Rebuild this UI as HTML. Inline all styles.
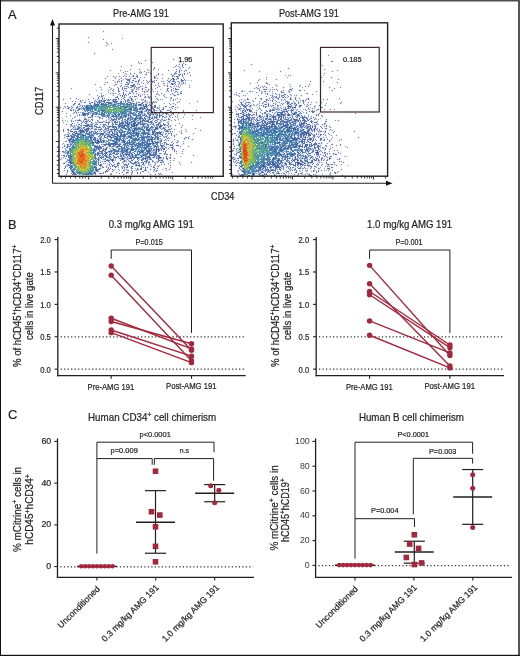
<!DOCTYPE html>
<html><head><meta charset="utf-8"><style>
html,body{margin:0;padding:0;background:#fff;-webkit-font-smoothing:antialiased;}
#w{position:relative;width:520px;height:656px;overflow:hidden;background:#fff;}
svg{position:absolute;left:0;top:0;}
canvas{position:absolute;} svg{will-change:transform} text{stroke:#231f20;stroke-width:0.22px;}
</style></head><body><div id="w">
<canvas id="c1" width="164" height="152" style="left:59px;top:24px"></canvas>
<canvas id="c2" width="157" height="154" style="left:231px;top:23px"></canvas>
<svg width="520" height="656" viewBox="0 0 520 656" font-family="Liberation Sans, sans-serif" stroke-linecap="butt"><g>
<text x="8" y="18.6" font-size="12.8" fill="#231f20">A</text>
<text x="113.1" y="16.6" font-size="10.5" textLength="55.7" lengthAdjust="spacingAndGlyphs" fill="#231f20">Pre-AMG 191</text>
<text x="278.9" y="16.6" font-size="10.5" textLength="60" lengthAdjust="spacingAndGlyphs" fill="#231f20">Post-AMG 191</text>
<line x1="52.5" y1="24" x2="52.5" y2="183.3" stroke="#231f20" stroke-width="1.1"/>
<path d="M52.5 19 L50 25.5 L55 25.5 Z" stroke="#231f20" stroke-width="0" fill="#111"/>
<line x1="52.5" y1="183.3" x2="387" y2="183.3" stroke="#231f20" stroke-width="1.1"/>
<path d="M392.5 183.3 L386 180.8 L386 185.8 Z" stroke="#231f20" stroke-width="0" fill="#111"/>
<text x="42.9" y="115" font-size="10.5" textLength="28.3" lengthAdjust="spacingAndGlyphs" transform="rotate(-90 42.9 115)" fill="#231f20">CD117</text>
<text x="211.1" y="200.2" font-size="10.5" textLength="23.2" lengthAdjust="spacingAndGlyphs" fill="#231f20">CD34</text>
<rect x="59" y="24" width="164.2" height="152.3" fill="none" stroke="#231f20" stroke-width="1.4"/>
<rect x="231.3" y="22.8" width="156.3" height="153.4" fill="none" stroke="#231f20" stroke-width="1.4"/>
<rect x="151.2" y="47.4" width="62.2" height="65.2" fill="none" stroke="#3d2626" stroke-width="1.2"/>
<rect x="320.5" y="47.4" width="58.7" height="64.6" fill="none" stroke="#3d2626" stroke-width="1.2"/>
<path d="M59 38.50h-3.3M59 62.50h-2.2M59 56.45h-2.2M59 52.16h-2.2M59 48.83h-2.2M59 46.12h-2.2M59 43.82h-2.2M59 41.83h-2.2M59 40.07h-2.2M59 72.80h-3.3M59 96.80h-2.2M59 90.75h-2.2M59 86.46h-2.2M59 83.13h-2.2M59 80.42h-2.2M59 78.12h-2.2M59 76.13h-2.2M59 74.37h-2.2M59 107.20h-3.3M59 131.20h-2.2M59 125.15h-2.2M59 120.86h-2.2M59 117.53h-2.2M59 114.82h-2.2M59 112.52h-2.2M59 110.53h-2.2M59 108.77h-2.2M59 141.50h-3.3M59 28.20h-2.2M59 147.00h-2.2M59 151.50h-2.2M59 156.00h-2.2M59 160.50h-2.2M59 165.00h-2.2M59 169.50h-2.2M59 173.50h-2.2" stroke="#231f20" stroke-width="0.9" fill="none"/>
<path d="M231.3 38.50h-3.3M231.3 62.50h-2.2M231.3 56.45h-2.2M231.3 52.16h-2.2M231.3 48.83h-2.2M231.3 46.12h-2.2M231.3 43.82h-2.2M231.3 41.83h-2.2M231.3 40.07h-2.2M231.3 72.80h-3.3M231.3 96.80h-2.2M231.3 90.75h-2.2M231.3 86.46h-2.2M231.3 83.13h-2.2M231.3 80.42h-2.2M231.3 78.12h-2.2M231.3 76.13h-2.2M231.3 74.37h-2.2M231.3 107.20h-3.3M231.3 131.20h-2.2M231.3 125.15h-2.2M231.3 120.86h-2.2M231.3 117.53h-2.2M231.3 114.82h-2.2M231.3 112.52h-2.2M231.3 110.53h-2.2M231.3 108.77h-2.2M231.3 141.50h-3.3M231.3 28.20h-2.2M231.3 147.00h-2.2M231.3 151.50h-2.2M231.3 156.00h-2.2M231.3 160.50h-2.2M231.3 165.00h-2.2M231.3 169.50h-2.2M231.3 173.50h-2.2" stroke="#231f20" stroke-width="0.9" fill="none"/>
<path d="M88.70 176.3v3.3M101.34 176.3v2.2M108.74 176.3v2.2M113.99 176.3v2.2M118.06 176.3v2.2M121.38 176.3v2.2M124.19 176.3v2.2M126.63 176.3v2.2M128.78 176.3v2.2M130.70 176.3v3.3M143.34 176.3v2.2M150.74 176.3v2.2M155.99 176.3v2.2M160.06 176.3v2.2M163.38 176.3v2.2M166.19 176.3v2.2M168.63 176.3v2.2M170.78 176.3v2.2M172.70 176.3v3.3M185.34 176.3v2.2M192.74 176.3v2.2M197.99 176.3v2.2M202.06 176.3v2.2M205.38 176.3v2.2M208.19 176.3v2.2M210.63 176.3v2.2M212.78 176.3v2.2M61.20 176.3v2.2M65.70 176.3v2.2M70.50 176.3v2.2M75.30 176.3v2.2M79.80 176.3v2.2M82.60 176.3v2.2M85.20 176.3v2.2" stroke="#231f20" stroke-width="0.9" fill="none"/>
<path d="M252.00 176.2v3.3M264.19 176.2v2.2M271.32 176.2v2.2M276.38 176.2v2.2M280.31 176.2v2.2M283.52 176.2v2.2M286.23 176.2v2.2M288.58 176.2v2.2M290.65 176.2v2.2M292.50 176.2v3.3M304.69 176.2v2.2M311.82 176.2v2.2M316.88 176.2v2.2M320.81 176.2v2.2M324.02 176.2v2.2M326.73 176.2v2.2M329.08 176.2v2.2M331.15 176.2v2.2M333.00 176.2v3.3M345.19 176.2v2.2M352.32 176.2v2.2M357.38 176.2v2.2M361.31 176.2v2.2M364.52 176.2v2.2M367.23 176.2v2.2M369.58 176.2v2.2M371.65 176.2v2.2M373.50 176.2v3.3M385.69 176.2v2.2M232.60 176.2v2.2M237.70 176.2v2.2M242.90 176.2v2.2M247.50 176.2v2.2" stroke="#231f20" stroke-width="0.9" fill="none"/>
<text x="178.2" y="61.5" font-size="7.8" textLength="14.1" lengthAdjust="spacingAndGlyphs" fill="#231f20">1.96</text>
<text x="343" y="61.5" font-size="7.8" textLength="18.5" lengthAdjust="spacingAndGlyphs" fill="#231f20">0.185</text>
<text x="8" y="228.7" font-size="12.8" fill="#231f20">B</text>
<text x="108.7" y="227.5" font-size="10.2" textLength="85.1" lengthAdjust="spacingAndGlyphs" fill="#231f20">0.3 mg/kg AMG 191</text>
<text x="135.6" y="244.8" font-size="8.6" textLength="27.1" lengthAdjust="spacingAndGlyphs" fill="#231f20">P=0.015</text>
<line x1="57.8" y1="237" x2="57.8" y2="376.2" stroke="#231f20" stroke-width="1.3"/>
<line x1="57.15" y1="375.6" x2="245.6" y2="375.6" stroke="#231f20" stroke-width="1.3"/>
<line x1="54.599999999999994" y1="369.1" x2="57.8" y2="369.1" stroke="#231f20" stroke-width="1.1"/>
<text x="50.8" y="372.5" font-size="9" text-anchor="end" textLength="10.6" lengthAdjust="spacingAndGlyphs" fill="#231f20">0.0</text>
<line x1="54.599999999999994" y1="336.725" x2="57.8" y2="336.725" stroke="#231f20" stroke-width="1.1"/>
<text x="50.8" y="340.125" font-size="9" text-anchor="end" textLength="10.6" lengthAdjust="spacingAndGlyphs" fill="#231f20">0.5</text>
<line x1="54.599999999999994" y1="304.35" x2="57.8" y2="304.35" stroke="#231f20" stroke-width="1.1"/>
<text x="50.8" y="307.75" font-size="9" text-anchor="end" textLength="10.6" lengthAdjust="spacingAndGlyphs" fill="#231f20">1.0</text>
<line x1="54.599999999999994" y1="271.975" x2="57.8" y2="271.975" stroke="#231f20" stroke-width="1.1"/>
<text x="50.8" y="275.375" font-size="9" text-anchor="end" textLength="10.6" lengthAdjust="spacingAndGlyphs" fill="#231f20">1.5</text>
<line x1="54.599999999999994" y1="239.60000000000002" x2="57.8" y2="239.60000000000002" stroke="#231f20" stroke-width="1.1"/>
<text x="50.8" y="243.00000000000003" font-size="9" text-anchor="end" textLength="10.6" lengthAdjust="spacingAndGlyphs" fill="#231f20">2.0</text>
<line x1="60.6" y1="336.9" x2="245" y2="336.9" stroke="#2a2a2a" stroke-width="1.3" stroke-dasharray="1.2 2.3"/>
<line x1="60.6" y1="369.2" x2="245" y2="369.2" stroke="#2a2a2a" stroke-width="1.3" stroke-dasharray="1.2 2.3"/>
<line x1="111.2" y1="375.6" x2="111.2" y2="378.8" stroke="#231f20" stroke-width="1.1"/>
<line x1="191.5" y1="375.6" x2="191.5" y2="378.8" stroke="#231f20" stroke-width="1.1"/>
<text x="110.9" y="389.5" font-size="8.8" text-anchor="middle" textLength="46.7" lengthAdjust="spacingAndGlyphs" fill="#231f20">Pre-AMG 191</text>
<text x="191.3" y="389.4" font-size="8.8" text-anchor="middle" textLength="50.6" lengthAdjust="spacingAndGlyphs" fill="#231f20">Post-AMG 191</text>
<path d="M111.2 258.8 L111.2 250 L191.5 250 L191.5 332.9" stroke="#231f20" stroke-width="1.0" fill="none"/>
<line x1="111.2" y1="266.02599999999995" x2="191.5" y2="350.263" stroke="#a3283d" stroke-width="1.4"/>
<line x1="111.2" y1="275.168" x2="191.5" y2="360.711" stroke="#a3283d" stroke-width="1.4"/>
<line x1="111.2" y1="318.26599999999996" x2="191.5" y2="348.957" stroke="#a3283d" stroke-width="1.4"/>
<line x1="111.2" y1="321.531" x2="191.5" y2="343.733" stroke="#a3283d" stroke-width="1.4"/>
<line x1="111.2" y1="330.02" x2="191.5" y2="356.14" stroke="#a3283d" stroke-width="1.4"/>
<line x1="111.2" y1="332.632" x2="191.5" y2="362.67" stroke="#a3283d" stroke-width="1.4"/>
<circle cx="111.2" cy="266.03" r="2.7" fill="#a3283d"/>
<circle cx="191.5" cy="350.26" r="2.7" fill="#a3283d"/>
<circle cx="111.2" cy="275.17" r="2.7" fill="#a3283d"/>
<circle cx="191.5" cy="360.71" r="2.7" fill="#a3283d"/>
<circle cx="111.2" cy="318.27" r="2.7" fill="#a3283d"/>
<circle cx="191.5" cy="348.96" r="2.7" fill="#a3283d"/>
<circle cx="111.2" cy="321.53" r="2.7" fill="#a3283d"/>
<circle cx="191.5" cy="343.73" r="2.7" fill="#a3283d"/>
<circle cx="111.2" cy="330.02" r="2.7" fill="#a3283d"/>
<circle cx="191.5" cy="356.14" r="2.7" fill="#a3283d"/>
<circle cx="111.2" cy="332.63" r="2.7" fill="#a3283d"/>
<circle cx="191.5" cy="362.67" r="2.7" fill="#a3283d"/>
<text transform="translate(20.5 305.8) rotate(-90)" text-anchor="middle" font-size="10" fill="#231f20" textLength="122.5" lengthAdjust="spacingAndGlyphs">% of hCD45<tspan font-size="7" dy="-3.5">+</tspan><tspan dy="3.5">hCD34</tspan><tspan font-size="7" dy="-3.5">+</tspan><tspan dy="3.5">CD117</tspan><tspan font-size="7" dy="-3.5">+</tspan></text>
<text transform="translate(32.6 306.1) rotate(-90)" text-anchor="middle" font-size="10" fill="#231f20" textLength="67.7" lengthAdjust="spacingAndGlyphs">cells in live gate</text>
<text x="367.09999999999997" y="227.5" font-size="10.2" textLength="85.1" lengthAdjust="spacingAndGlyphs" fill="#231f20">1.0 mg/kg AMG 191</text>
<text x="395.5" y="244.8" font-size="8.6" textLength="27.1" lengthAdjust="spacingAndGlyphs" fill="#231f20">P=0.001</text>
<line x1="316.2" y1="237" x2="316.2" y2="376.2" stroke="#231f20" stroke-width="1.3"/>
<line x1="315.55" y1="375.6" x2="504.0" y2="375.6" stroke="#231f20" stroke-width="1.3"/>
<line x1="313.0" y1="369.1" x2="316.2" y2="369.1" stroke="#231f20" stroke-width="1.1"/>
<text x="309.2" y="372.5" font-size="9" text-anchor="end" textLength="10.6" lengthAdjust="spacingAndGlyphs" fill="#231f20">0.0</text>
<line x1="313.0" y1="336.725" x2="316.2" y2="336.725" stroke="#231f20" stroke-width="1.1"/>
<text x="309.2" y="340.125" font-size="9" text-anchor="end" textLength="10.6" lengthAdjust="spacingAndGlyphs" fill="#231f20">0.5</text>
<line x1="313.0" y1="304.35" x2="316.2" y2="304.35" stroke="#231f20" stroke-width="1.1"/>
<text x="309.2" y="307.75" font-size="9" text-anchor="end" textLength="10.6" lengthAdjust="spacingAndGlyphs" fill="#231f20">1.0</text>
<line x1="313.0" y1="271.975" x2="316.2" y2="271.975" stroke="#231f20" stroke-width="1.1"/>
<text x="309.2" y="275.375" font-size="9" text-anchor="end" textLength="10.6" lengthAdjust="spacingAndGlyphs" fill="#231f20">1.5</text>
<line x1="313.0" y1="239.60000000000002" x2="316.2" y2="239.60000000000002" stroke="#231f20" stroke-width="1.1"/>
<text x="309.2" y="243.00000000000003" font-size="9" text-anchor="end" textLength="10.6" lengthAdjust="spacingAndGlyphs" fill="#231f20">2.0</text>
<line x1="319.0" y1="336.9" x2="503.4" y2="336.9" stroke="#2a2a2a" stroke-width="1.3" stroke-dasharray="1.2 2.3"/>
<line x1="319.0" y1="369.2" x2="503.4" y2="369.2" stroke="#2a2a2a" stroke-width="1.3" stroke-dasharray="1.2 2.3"/>
<line x1="369.59999999999997" y1="375.6" x2="369.59999999999997" y2="378.8" stroke="#231f20" stroke-width="1.1"/>
<line x1="449.9" y1="375.6" x2="449.9" y2="378.8" stroke="#231f20" stroke-width="1.1"/>
<text x="369.29999999999995" y="389.5" font-size="8.8" text-anchor="middle" textLength="46.7" lengthAdjust="spacingAndGlyphs" fill="#231f20">Pre-AMG 191</text>
<text x="449.7" y="389.4" font-size="8.8" text-anchor="middle" textLength="50.6" lengthAdjust="spacingAndGlyphs" fill="#231f20">Post-AMG 191</text>
<path d="M369.59999999999997 258.8 L369.59999999999997 250 L449.9 250 L449.9 332.9" stroke="#231f20" stroke-width="1.0" fill="none"/>
<line x1="369.59999999999997" y1="265.373" x2="449.9" y2="355.48699999999997" stroke="#a3283d" stroke-width="1.4"/>
<line x1="369.59999999999997" y1="283.657" x2="449.9" y2="365.935" stroke="#a3283d" stroke-width="1.4"/>
<line x1="369.59999999999997" y1="291.493" x2="449.9" y2="345.039" stroke="#a3283d" stroke-width="1.4"/>
<line x1="369.59999999999997" y1="294.758" x2="449.9" y2="347.651" stroke="#a3283d" stroke-width="1.4"/>
<line x1="369.59999999999997" y1="320.878" x2="449.9" y2="352.875" stroke="#a3283d" stroke-width="1.4"/>
<line x1="369.59999999999997" y1="335.24399999999997" x2="449.9" y2="367.894" stroke="#a3283d" stroke-width="1.4"/>
<circle cx="369.59999999999997" cy="265.37" r="2.7" fill="#a3283d"/>
<circle cx="449.9" cy="355.49" r="2.7" fill="#a3283d"/>
<circle cx="369.59999999999997" cy="283.66" r="2.7" fill="#a3283d"/>
<circle cx="449.9" cy="365.94" r="2.7" fill="#a3283d"/>
<circle cx="369.59999999999997" cy="291.49" r="2.7" fill="#a3283d"/>
<circle cx="449.9" cy="345.04" r="2.7" fill="#a3283d"/>
<circle cx="369.59999999999997" cy="294.76" r="2.7" fill="#a3283d"/>
<circle cx="449.9" cy="347.65" r="2.7" fill="#a3283d"/>
<circle cx="369.59999999999997" cy="320.88" r="2.7" fill="#a3283d"/>
<circle cx="449.9" cy="352.88" r="2.7" fill="#a3283d"/>
<circle cx="369.59999999999997" cy="335.24" r="2.7" fill="#a3283d"/>
<circle cx="449.9" cy="367.89" r="2.7" fill="#a3283d"/>
<text transform="translate(278.9 305.8) rotate(-90)" text-anchor="middle" font-size="10" fill="#231f20" textLength="122.5" lengthAdjust="spacingAndGlyphs">% of hCD45<tspan font-size="7" dy="-3.5">+</tspan><tspan dy="3.5">hCD34</tspan><tspan font-size="7" dy="-3.5">+</tspan><tspan dy="3.5">CD117</tspan><tspan font-size="7" dy="-3.5">+</tspan></text>
<text transform="translate(291.0 306.1) rotate(-90)" text-anchor="middle" font-size="10" fill="#231f20" textLength="67.7" lengthAdjust="spacingAndGlyphs">cells in live gate</text>
<text x="8" y="419" font-size="12.8" fill="#231f20">C</text>
<line x1="57.5" y1="438.4" x2="57.5" y2="577.9" stroke="#231f20" stroke-width="1.3"/>
<line x1="56.85" y1="577.3" x2="254" y2="577.3" stroke="#231f20" stroke-width="1.3"/>
<line x1="54.3" y1="566.6" x2="57.5" y2="566.6" stroke="#231f20" stroke-width="1.1"/>
<text x="51.2" y="569.2" font-size="8.8" text-anchor="end" fill="#231f20">0</text>
<line x1="54.3" y1="524.87" x2="57.5" y2="524.87" stroke="#231f20" stroke-width="1.1"/>
<text x="51.2" y="527.47" font-size="8.8" text-anchor="end" fill="#231f20">20</text>
<line x1="54.3" y1="483.14" x2="57.5" y2="483.14" stroke="#231f20" stroke-width="1.1"/>
<text x="51.2" y="485.74" font-size="8.8" text-anchor="end" fill="#231f20">40</text>
<line x1="54.3" y1="441.41" x2="57.5" y2="441.41" stroke="#231f20" stroke-width="1.1"/>
<text x="51.2" y="444.01000000000005" font-size="8.8" text-anchor="end" fill="#231f20">60</text>
<line x1="60.3" y1="566.9" x2="253" y2="566.9" stroke="#2a2a2a" stroke-width="1.3" stroke-dasharray="1.2 2.3"/>
<line x1="96.9" y1="577.3" x2="96.9" y2="580.4" stroke="#231f20" stroke-width="1.1"/>
<line x1="155.8" y1="577.3" x2="155.8" y2="580.4" stroke="#231f20" stroke-width="1.1"/>
<line x1="214.7" y1="577.3" x2="214.7" y2="580.4" stroke="#231f20" stroke-width="1.1"/>
<text transform="translate(100.40 589.50) rotate(-45)" text-anchor="end" font-size="8.7" fill="#231f20">Unconditioned</text>
<text transform="translate(159.30 588.00) rotate(-45)" text-anchor="end" font-size="8.7" fill="#231f20">0.3 mg/kg AMG 191</text>
<text transform="translate(219.70 588.00) rotate(-45)" text-anchor="end" font-size="8.7" fill="#231f20">1.0 mg/kg AMG 191</text>
<line x1="315.6" y1="438.4" x2="315.6" y2="577.9" stroke="#231f20" stroke-width="1.3"/>
<line x1="314.95000000000005" y1="577.3" x2="512.1" y2="577.3" stroke="#231f20" stroke-width="1.3"/>
<line x1="312.40000000000003" y1="565.4" x2="315.6" y2="565.4" stroke="#231f20" stroke-width="1.1"/>
<text x="309.70000000000005" y="568.0" font-size="8.8" text-anchor="end" fill="#231f20" style="stroke-width:0" fill-opacity="0.9">0</text>
<line x1="312.40000000000003" y1="540.6" x2="315.6" y2="540.6" stroke="#231f20" stroke-width="1.1"/>
<text x="309.70000000000005" y="543.2" font-size="8.8" text-anchor="end" fill="#231f20" style="stroke-width:0" fill-opacity="0.9">20</text>
<line x1="312.40000000000003" y1="515.8" x2="315.6" y2="515.8" stroke="#231f20" stroke-width="1.1"/>
<text x="309.70000000000005" y="518.4" font-size="8.8" text-anchor="end" fill="#231f20" style="stroke-width:0" fill-opacity="0.9">40</text>
<line x1="312.40000000000003" y1="491.0" x2="315.6" y2="491.0" stroke="#231f20" stroke-width="1.1"/>
<text x="309.70000000000005" y="493.6" font-size="8.8" text-anchor="end" fill="#231f20" style="stroke-width:0" fill-opacity="0.9">60</text>
<line x1="312.40000000000003" y1="466.2" x2="315.6" y2="466.2" stroke="#231f20" stroke-width="1.1"/>
<text x="309.70000000000005" y="468.8" font-size="8.8" text-anchor="end" fill="#231f20" style="stroke-width:0" fill-opacity="0.9">80</text>
<line x1="312.40000000000003" y1="441.4" x2="315.6" y2="441.4" stroke="#231f20" stroke-width="1.1"/>
<text x="309.70000000000005" y="444.0" font-size="8.8" text-anchor="end" fill="#231f20" style="stroke-width:0" fill-opacity="0.9">100</text>
<line x1="318.40000000000003" y1="565.6999999999999" x2="511.1" y2="565.6999999999999" stroke="#2a2a2a" stroke-width="1.3" stroke-dasharray="1.2 2.3"/>
<line x1="355.0" y1="577.3" x2="355.0" y2="580.4" stroke="#231f20" stroke-width="1.1"/>
<line x1="413.90000000000003" y1="577.3" x2="413.90000000000003" y2="580.4" stroke="#231f20" stroke-width="1.1"/>
<line x1="472.8" y1="577.3" x2="472.8" y2="580.4" stroke="#231f20" stroke-width="1.1"/>
<text transform="translate(358.50 589.50) rotate(-45)" text-anchor="end" font-size="8.7" fill="#231f20">Unconditioned</text>
<text transform="translate(417.40 588.00) rotate(-45)" text-anchor="end" font-size="8.7" fill="#231f20">0.3 mg/kg AMG 191</text>
<text transform="translate(477.80 588.00) rotate(-45)" text-anchor="end" font-size="8.7" fill="#231f20">1.0 mg/kg AMG 191</text>
<text x="88" y="420.5" font-size="10.5" fill="#231f20" textLength="128.2" lengthAdjust="spacingAndGlyphs">Human CD34<tspan font-size="7" dy="-3.8">+</tspan><tspan dy="3.8"> cell chimerism</tspan></text>
<text x="358.9" y="420.5" font-size="10.5" textLength="105.1" lengthAdjust="spacingAndGlyphs" fill="#231f20">Human B cell chimerism</text>
<text x="139.5" y="436.5" font-size="7.8" textLength="31.3" lengthAdjust="spacingAndGlyphs" fill="#231f20">p&lt;0.0001</text>
<text x="110.5" y="453.3" font-size="7.8" textLength="27.3" lengthAdjust="spacingAndGlyphs" fill="#231f20">p=0.009</text>
<text x="179.8" y="453.0" font-size="7.8" textLength="9.2" lengthAdjust="spacingAndGlyphs" fill="#231f20">n.s</text>
<path d="M96.9 553.6 L96.9 442.2 L214 442.2 L214 452.3" stroke="#231f20" stroke-width="1.0" fill="none"/>
<path d="M96.9 458.6 L152.2 458.6 L152.2 464.8" stroke="#231f20" stroke-width="1.0" fill="none"/>
<path d="M154.3 464.8 L154.3 458.6 L213.6 458.6 L213.6 480.7" stroke="#231f20" stroke-width="1.0" fill="none"/>
<text x="397.4" y="436.8" font-size="7.8" textLength="31.6" lengthAdjust="spacingAndGlyphs" fill="#231f20">P&lt;0.0001</text>
<text x="429" y="453.5" font-size="7.8" textLength="27.4" lengthAdjust="spacingAndGlyphs" fill="#231f20">P=0.003</text>
<text x="371" y="513.1" font-size="7.8" textLength="27.5" lengthAdjust="spacingAndGlyphs" fill="#231f20">P=0.004</text>
<path d="M355 558.7 L355 442.2 L472.6 442.2 L472.6 453.7" stroke="#231f20" stroke-width="1.0" fill="none"/>
<path d="M413.3 514.4 L413.3 458.3 L472.6 458.3 L472.6 463.6" stroke="#231f20" stroke-width="1.0" fill="none"/>
<path d="M355 518.7 L414.5 518.7 L414.5 526.9" stroke="#231f20" stroke-width="1.0" fill="none"/>
<line x1="77" y1="566.4" x2="117" y2="566.4" stroke="#231f20" stroke-width="1.4"/>
<circle cx="81.20" cy="566.3" r="2.3" fill="#a3283d"/>
<circle cx="85.13" cy="566.3" r="2.3" fill="#a3283d"/>
<circle cx="89.06" cy="566.3" r="2.3" fill="#a3283d"/>
<circle cx="92.99" cy="566.3" r="2.3" fill="#a3283d"/>
<circle cx="96.92" cy="566.3" r="2.3" fill="#a3283d"/>
<circle cx="100.85" cy="566.3" r="2.3" fill="#a3283d"/>
<circle cx="104.78" cy="566.3" r="2.3" fill="#a3283d"/>
<circle cx="108.71" cy="566.3" r="2.3" fill="#a3283d"/>
<circle cx="112.64" cy="566.3" r="2.3" fill="#a3283d"/>
<line x1="155.5" y1="490.6514" x2="155.5" y2="553.2464" stroke="#231f20" stroke-width="1.2"/>
<line x1="145.0" y1="490.6514" x2="166.0" y2="490.6514" stroke="#231f20" stroke-width="1.2"/>
<line x1="145.0" y1="553.2464" x2="166.0" y2="553.2464" stroke="#231f20" stroke-width="1.2"/>
<line x1="136.0" y1="522.15755" x2="175.0" y2="522.15755" stroke="#231f20" stroke-width="1.5"/>
<rect x="152.70" y="468.45" width="5.6" height="5.6" fill="#a3283d"/>
<rect x="148.70" y="508.93" width="5.6" height="5.6" fill="#a3283d"/>
<rect x="157.00" y="512.26" width="5.6" height="5.6" fill="#a3283d"/>
<rect x="152.70" y="523.95" width="5.6" height="5.6" fill="#a3283d"/>
<rect x="152.70" y="543.56" width="5.6" height="5.6" fill="#a3283d"/>
<rect x="152.70" y="559.00" width="5.6" height="5.6" fill="#a3283d"/>
<line x1="214.7" y1="484.60055" x2="214.7" y2="501.70985" stroke="#231f20" stroke-width="1.2"/>
<line x1="204.2" y1="484.60055" x2="225.2" y2="484.60055" stroke="#231f20" stroke-width="1.2"/>
<line x1="204.2" y1="501.70985" x2="225.2" y2="501.70985" stroke="#231f20" stroke-width="1.2"/>
<line x1="195.2" y1="493.36385" x2="234.2" y2="493.36385" stroke="#231f20" stroke-width="1.5"/>
<circle cx="210.70" cy="485.64" r="2.5" fill="#a3283d"/>
<circle cx="218.80" cy="490.23" r="2.5" fill="#a3283d"/>
<circle cx="214.70" cy="502.75" r="2.5" fill="#a3283d"/>
<line x1="335" y1="565.2" x2="375" y2="565.2" stroke="#231f20" stroke-width="1.4"/>
<circle cx="339.20" cy="565.1" r="2.3" fill="#a3283d"/>
<circle cx="343.13" cy="565.1" r="2.3" fill="#a3283d"/>
<circle cx="347.06" cy="565.1" r="2.3" fill="#a3283d"/>
<circle cx="350.99" cy="565.1" r="2.3" fill="#a3283d"/>
<circle cx="354.92" cy="565.1" r="2.3" fill="#a3283d"/>
<circle cx="358.85" cy="565.1" r="2.3" fill="#a3283d"/>
<circle cx="362.78" cy="565.1" r="2.3" fill="#a3283d"/>
<circle cx="366.71" cy="565.1" r="2.3" fill="#a3283d"/>
<circle cx="370.64" cy="565.1" r="2.3" fill="#a3283d"/>
<line x1="414.3" y1="541.22" x2="414.3" y2="563.168" stroke="#231f20" stroke-width="1.2"/>
<line x1="403.8" y1="541.22" x2="424.8" y2="541.22" stroke="#231f20" stroke-width="1.2"/>
<line x1="403.8" y1="563.168" x2="424.8" y2="563.168" stroke="#231f20" stroke-width="1.2"/>
<line x1="394.8" y1="552.0079999999999" x2="433.8" y2="552.0079999999999" stroke="#231f20" stroke-width="1.5"/>
<rect x="411.50" y="531.97" width="5.6" height="5.6" fill="#a3283d"/>
<rect x="406.90" y="541.27" width="5.6" height="5.6" fill="#a3283d"/>
<rect x="415.80" y="545.61" width="5.6" height="5.6" fill="#a3283d"/>
<rect x="403.50" y="554.66" width="5.6" height="5.6" fill="#a3283d"/>
<rect x="418.80" y="560.12" width="5.6" height="5.6" fill="#a3283d"/>
<rect x="411.50" y="561.73" width="5.6" height="5.6" fill="#a3283d"/>
<line x1="472.7" y1="469.548" x2="472.7" y2="524.356" stroke="#231f20" stroke-width="1.2"/>
<line x1="462.2" y1="469.548" x2="483.2" y2="469.548" stroke="#231f20" stroke-width="1.2"/>
<line x1="462.2" y1="524.356" x2="483.2" y2="524.356" stroke="#231f20" stroke-width="1.2"/>
<line x1="453.2" y1="497.07599999999996" x2="492.2" y2="497.07599999999996" stroke="#231f20" stroke-width="1.5"/>
<circle cx="472.70" cy="474.63" r="2.5" fill="#a3283d"/>
<circle cx="472.70" cy="488.27" r="2.5" fill="#a3283d"/>
<circle cx="472.70" cy="527.58" r="2.5" fill="#a3283d"/>
<text transform="translate(20.6 509.4) rotate(-90)" text-anchor="middle" font-size="10" fill="#231f20" textLength="85" lengthAdjust="spacingAndGlyphs">% mCitrine<tspan font-size="7" dy="-3.5">+</tspan><tspan dy="3.5"> cells in</tspan></text>
<text transform="translate(33.1 509.4) rotate(-90)" text-anchor="middle" font-size="10" fill="#231f20" textLength="70.5" lengthAdjust="spacingAndGlyphs">hCD45<tspan font-size="7" dy="-3.5">+</tspan><tspan dy="3.5">hCD34</tspan><tspan font-size="7" dy="-3.5">+</tspan></text>
<text transform="translate(277.8 507.9) rotate(-90)" text-anchor="middle" font-size="10" fill="#231f20" textLength="85.3" lengthAdjust="spacingAndGlyphs">% mCitrine<tspan font-size="7" dy="-3.5">+</tspan><tspan dy="3.5"> cells in</tspan></text>
<text transform="translate(288.9 510.2) rotate(-90)" text-anchor="middle" font-size="10" fill="#231f20" textLength="63.6" lengthAdjust="spacingAndGlyphs">hCD45<tspan font-size="7" dy="-3.5">+</tspan><tspan dy="3.5">hCD19</tspan><tspan font-size="7" dy="-3.5">+</tspan></text></g>
<rect x="0" y="0" width="520" height="1.5" fill="#4d4d4d"/>
<rect x="518" y="0" width="2" height="656" fill="#555"/>
<rect x="0" y="0" width="1" height="656" fill="#111"/>
<rect x="0" y="654.8" width="520" height="1.2" fill="#111"/>
</svg></div>
<script>
function drawFlow(id,enc,W,H){var c=document.getElementById(id),x=c.getContext('2d'),im=x.createImageData(W,H),d=im.data,A='ABCDEFGHIJKLMNOPQRSTUVWXYZabcdefghijklmnopqrstuvwxyz0123456789+/',T={},p=0,i=0,k;
for(k=0;k<64;k++)T[A[k]]=k;
while(i<enc.length){var ch=enc[i];if(ch=='!'){var j=enc.indexOf('.',i);var L=+enc.substring(i+1,j);for(var t=0;t<L;t++){var o=p*4;d[o]=d[o+1]=d[o+2]=d[o+3]=255;p++;}i=j+1;}else{var v=T[ch]*64+T[enc[i+1]],o=p*4;d[o]=(v>>8)*17;d[o+1]=((v>>4)&15)*17;d[o+2]=(v&15)*17;d[o+3]=255;p++;i+=2;}}
x.putImageData(im,0,0);}
drawFlow('c1','!1028.7v!162.7viJ7v!162.7v!640.7v!162.7viJ7v!32.7/!129.7v!14.7v!17.7/ma7/!142.7viJ7v!17.7/!144.7v!148.7v!17.7v!144.7viJ7v!15.7viJ7v!3.7v!140.7v!17.7via7v//7viJ7v!157.7v3vmr7///7v!157.7viJ7v7/!161.7v!333.7v!162.7viJ7v!162.7v!309.7v!162.7viJ7v!162.7v!419.7v!162.7vma7v7v!148.7v!12.7v7viJ7v!119.7v!26.7viJ7v!13.7v!119.7viJ7v!26.7v!128.7v!6.7v!6.7v!27.7v!120.7viJ7v//7v!9.7vma7v!25.7viJ7v//7v!118.7viJ7viJ7v!9.7v!26.7v7v//7viJ7v7v!109.7v!7.7v//7v!34.7v//7viJ7v7vd53v7vd47v!98.7v!8.7vd47v!42.7veJ7v7v7v//7vd47v//7v!98.7viJ7v!8.7v!22.7v!18.7/7viJ3v7viJ7v//7veJ3v!5.7v!95.7v!31.7viJ7v!16.7/ma7v7v////7viJ7v//7vma7/!3.7viJ7v!103.7v!8.7v!7.7v!5.3veJ7v////7v!14.7/////7v////7via7v//7/!3.7/ma7v!84.7v!9.7v!8.7viJ7v!6.7viJ7v!5.7vma7v!3.7viJ7v////7viJ7v!8.7v!6.7viZ7v//7v7v7v!3.7v7v//7/!84.7vmZ7v!7.7viJ7v!3.7v//7/////7v!8.7v7v!3.7v////7viJ7v!3.7v!4.7v!8.7viJ7v!6.3v//7vZo3viJ7v//7viaeJ7v!86.7v!9.7v////7v7viJ7vma7/!10.7viK7v//7viZ7v7v//7v!19.7v!6.3veJ7v7vZ47v7v//7viJ3v7v////7v!92.7v!3.7viJ7v7v//7/////7v!3.7v!3.7viJzeiK7v//7v7viJ7viJ7v7v!7.7v!15.3vib3f//7veJ7v!3.7v////7v7viJ7v!90.7vmZ7v!3.7v7vma7v////7vZ47v//7viJ7v7/////7via7v!3.7v3v//7v7vd47v!5.7vd57v////7v!8.7v//7veJZ5eJ7v7v3v7v//7v7vd57v7viJ7v7v!92.7v!5.7v3viJ7v//7/ia7///7v7v7/qr7v////7v!3.7veJd57v////7v!5.7v7vd57v//7viZ7v!6.7viJ3v3viK3v7v7/ibZ5Z43veJ3vd57v//7v////7v!80.7v!5.7v////7/////7v!3.7viJ7v7v////7v7///3vd57v//3feJ7v!6.7v7v!7.7v7viJ7v7v!3.7v!8.3vZ5ib3v7/7v7v3feK3v7veJ7v7v!4.7viJ7v!78.7viJ7v!3.7viJ7v7vma7/7viJ7v//7viJ7v7viJ7v7viJ7v7veJZ57v7vZ5Z57v//7v!3.7v!8.7vd53v7v!14.7vd53fia3veKZ5eK3v//7viK3v!6.7v!78.7v//7v!5.7vma3v7v////7v//7v//7v//7v7v////7v7v//7v3v7v7v3veJ7v7viJ7v//7viJ7v!7.7vZod57v7v!4.7v!5.7v!3.3v7v7v//3veKzf!3.7via7v!83.7viJ7v!7.7viJ7v////7v7viJ7v7/7viJ3v7v7v3viJ7v7/mreJZ47v7v//7v7v!3.7v!6.7v//7vd53v7viJ7v////7viJ7v!3.7viZ7v//3vZoVY3v//3veKZ57v//7v//7v7v!84.7v!7.7v//7v////7viJ7v7v7/q77/7vd5Z5ZpZ53v//7v3v7v7v////3veJ7v////7v////7/!3.7veJ7v//7v//7v7v!4.7v!4.7v7v//3viJzfRYd53viJ3v7v//7vZo3v3viJ7v////7/////7/!84.7viJ7v////7vq83v7viJ7v7/////3veKZ6Z57v7veJZo7v7v7v7vZ5ia7///7viJ7v7/ma7v//7v7viK3v3viJ7viJ7v!3.7///7v////7viJ3v3vZ43v3veKzf7/7v7/7///7vZoZpd53fiJ7v7/q77/7/qr7/!76.7v//7v!5.7v//7v7viK3viJ3veJ7v!3.7v3v3vZ57v7v3v7v7vZod53vZ53v//7///7v////7viJ3fiJ7v3vZ5iK3f//7v!3.7/ma7viJ7v////7viKd53v7vZ5Z5Zp3v7/mbib3v7vd5d63f//7v////7/////7/!76.7via7vd47v!5.7via3viJ7v7v//3v!3.7vd5Z53feJ3veJiJ7v//7v7v3veK7v7/ma7v7v!3.3fiJ7v//7viK3fd47v////7v////7///3v7v////7v3veJ7v7v3v7vzfd57v7/3vd57v3v3viK7v7v!73.7v!8.7v7v//7v!7.3v7v7v////7viJ7v////7v3vzfd53v//7v7v7v7v//7/ia3v7v//7/7viJ7v//7via7v////7v7v//7v////7viJ7v////7veJia7/7/ma7v7v7vVoeKzfZ53f////3vd53via3feJ3viJ7v!71.7vma7v!6.7viJ7v!8.7viaiJ7v!3.3v////7veJibd5Z57v7/7v3vZ5Z57v7/mr3viJ7v////7v//7///7v////7viJ7v////7v////7v!4.7v3v////3v////7/ibVoeK3fiJ7v7viJ3v7v3vmr7v//7v!3.7v!69.7v!8.7v!8.7viJ3v7v!3.3veJ7v//7v7v3v3v7v7/ibZ5VpZ6Z53v//7///7v7v//7v//7/ma7/!4.7v////7viJ7v7viJ7v!3.7viJ7v7vZo7v//7v7/7v7v7v7v7v//7v7viJ7v7/!5.7viZ7v!73.7v!8.7v!4.7v////7///7viJ3v7v7vd43veJia3v7/3veLVpZ6zfZ53v//7v3viJ7viJ7v//7v7v!3.7vd57v////7v//7v7via7v!3.7v//7vd57v7viJ7v//7via7viJ7viJ3v7v!8.7v!45.7v!27.7viJ7v!6.7viJ7v7/!4.7vma3v//7v7veJ7v3v7v3v3vd43vibeK3v3viK3fia3feJd57v//3v//7veJd57v////7vd47v////7v7viJ7v7v!7.3v7v//7viJ7v7v7v7v7v//7viJ7v!7.7viJ7v!43.7viJ7v!27.7v7v!7.7v3via7v7v!3.3vZ47v//7vZ43vd5d5d57v7v//7/3v7/3veJ7v3fiK3f7v//7vZ47v//7v7v//7v//7vd53v//7viZ7v7v////7/!5.7vd5eJ7v//7v7viJ3vd53v7/7v7v!9.7v!45.7v!24.7/!3.7viJ7v!5.7v7via3v3viJ7v////7veK7v//7vd53v7v3v7v!3.7veKiria3v7viJ3fiJ7v//7vd57v7viJ7v7veJ7v//3fmr7///7v!3.7/ma7/!4.7vZ53v//7veJ7v3v7vZ5Voiaia7v!79.7/mq7/!3.7v!5.7viJ7v7v7viJ3e!3.7vZ53v////3vd53viJ7v!4.3feK3v//7v3v//7v!3.7v//7v7v7v3veJ7v7viJ3v7v!3.7v////7/!5.3vd53v//7veJ3vqr7/3v3v7v7v////7v!78.7/!11.7v!3.7viJ7v////7vd5d57v////3v//7viJ7v//7v7veKZ57v7vd5d57v!3.7viJ3vd53veJeJ7v//7/7v7vma7v//7viJ7v!6.7viJ3eiJ7v7/ma7/7/3veJeJ3v////7viJ7v!82.7v!5.7/ma7v7v//7v3v//7v////7v3v////7vZ47v//7v//7veJ3v3veK3v//7v7v!5.7v7vd57v7v7v//7/mq7///7v!3.7v!3.7v!4.7v//7v////7/7v7vma3v3viK7v7/ia3f!71.7v!10.7viJ7v////7/////7/7viJ7viJmb7viZ7v//7via7v//7vd57v7v////3veKeJ7v7viJ7v7viJ7v7v!3.7v//7v////7v////7/!5.7viJ7v//7viJ7v//7v!5.7v7viJ3v7v////3v7v7vd5eJ7v!69.7viJ7v!6.7/!3.7v//7v7/q77/!3.7v//7v3v//7v//7viK3v7v//3vd53fd53v7viJ3v7v////7v////7v7viJ7v7v7viJ7viJ7v7viJ7v!6.7viJ3fia7v//7v//7via7v!3.7viJ7v7viK3v7v7veJZo7v7v7v!71.7v!6.7/ma7/7/7veJ3fiJ7v7/!6.7viJ7v////7v7v7vd43vZozfd53fiK7v7v//7v//7v//7v7v7v7veJ3vd57v7v//7v7v//7v7v//7/!4.7v7v//7vmq7///7/ma3f!5.7v////7vd5iJ7v7v7v!82.7v3vma3vZ5eK3v!9.7v//7/3vZ57v//7v3vZ53veJ7v7v////3vd53viJ7vd5Z4eJ7v7v7vd47v////3vd57v7veJ3fmr7/////7viJ7v////7/!3.7viJ7v7v!4.7v////7v7v!58.7v!5.7v!16.7v!3.7veJ3v//3vib7/7v!9.7/iaZ5eK3v//7viJ3v3vZ47v////7viJ3f7v7v//7v7v7v7/////7v////7veJd47v7veJeK3v7v!3.7v7v!7.7v7viZ7v////3viK7/!4.7v!49.7v!5.7viJ7v!3.7viJ7v7v!9.7v!3.7viJ7v////3vd57v//7/ia3viJ7v7///7v//7v////7v7v3v3v3vZ47v//7v7vd53f////7/7v3veKZo3v////7v7/q77/////7v//7v7v7v////3via3vZ47v////7viJ3v////7///7/!3.7v////7veJmr7/7v//7v7viJ7v//7v!45.7viJ7v!5.7v!5.7v7viJ7v7v//7v////7///7viJ7v!3.7v//7v7via3v7v7v3veK3v3v3vmr3feJ3fd57v3vVoZ5Vod53via7v7viJ7v3vZ53v7/ibZ63v3vZ5Zo7v7viJ7v7/////7viJ3fiJ7v7v!3.7/7viJ7v!3.3vd43v7vma7vma7/!6.3v7/7viJ7via7v7v//7viZ7v!45.7v!8.7v////7v////7v7veJ3viJ7v7/mq7///7v7v!4.3veJ3v7v3vZ5Z5Z6zfibVoeK3viKeKeJ3v7vd5Z6zfZ6zf7v7v//7v3v//7v3vZ43veKZ6Z53vd5zf7v//7v!5.7via3v3veJ7v7/!3.7v//7///7v//3vma7/7///7/!6.7via7v7veJ7v7v!3.7v7v!16.7v!37.7viJ7v7viJ7v////7vZ43v7v//7v3v////7vd47v7v7v7vibzfeKzfZ5VpzfZ6ebV5Vp3v7v3v3v3v3/7vzfVpVpRYVpeK7v7/ibVo3viJ3vZ53veKzf3v7v3veJiK7///7v//7v7v////3v3vmrZ53vmr7/7v//7v3via3fiJ7v//7/!11.7v////7v!3.7v7viJ7v!15.7viJ7v!30.7v!6.7v//7v3v!3.7v3viJ7v7veJd47v////3v3vZ4eJ3veK3v3vaKebV5Z6zf3vzfZ6zfVoVpRpV5aKaKibzfV5Z6V6zf3v3vV5Z63v3v3vms3vzfZ6VoZ63v3v3v7v7veJ3veJeJ7v3veKia3v3vib3v7viJ3veJZ5ibeJ3fiJ7v!6.7v!4.7v!3.7v////7viJ7v7v!9.7/!7.7v!30.7viJ7v!6.3vZ5ib7///3vd57v7v////7v7v////7veJZ53v7v7vZ6iszvZ6vfebzfZ6aKV5vfZ6zfzfRpRpR5WJzvzvecvfecaLV5V6V6V6R5WKaKvvebVpzfzfZ6Z6Z6Z5iLzfd57v3v3v3vZ5eK3f7/7v3fia7v3v7/3vZ53v7v//7v!6.7vma7v////7viJ7v//7viJ7v7v//7v!10.7/mq7/!38.7v!6.7vZ5ib3v//7vd5d53v//7v//7/7/7v7v7vzfis3v7/3vRpV6RqRpRpvfaKNoR5R5WKR5V6WKer3vapaparWKRpWKabvvebvfWKecabR5erWKabNoV6V5WJV5zfZ6vfZ6aK3vZ5VpRoaKzfaJ3vZ5Z53v3viJ3v3vib7/7v7v!3.7/!4.7v!4.7viJ7v//7v7viJ7v!12.7/!38.7v////7v!3.7v7via3v////7v7v3feJ3vd53virzvZ5V5aKV5R5VpzfecV6RqR6SKWJaazvWaapWaV6R4aZ3vRqWbWZWZaqNpR6WazvWKaJWJWJ3vzvV6WKvvWKababWJi6WKzvZ6aLR6aK3vd5Z6V5V5msZ5zfeLVpzfZ43fZod53f7vZ5d57v//7/ma7/!4.7v7v!3.7v//7v7v//7v!48.7v////7viJ7v7viJ3v7v7viJ3v7v////3vd53vmr3v3vd5zvisesRqRqV7vfWLNpRqWLR6WaSKR6WKWLWaV6WZSKaqWZR4SbWbWain7/WZWZeoWaWaWZi43uWJSKR5SaSLSLSKR5arWaWaR6WKWJvfacaK3v7v7v3vzvzvZ6VpVqVpib3v//7v3fd63vZpZp7v7v7/7v!3.7/7vd5d47v//7v//7vd5d57v7v//7v!45.7vmZ7v//7v3viJ7v3fZ5eJ7v3fd47v//7vZ5Z53v3v3vibzfebvfaLNqRqRqNoaaV6NpacSLe6SaWazvWqaoWYWZWZSZWZe2Wparanaoanaoe5arWbjHi3WZaoWZSJe3aoWZNqSKWKabWZaoSKabWJabR5V63v7/3vZ5RoaKvfRpvPVpzf7///7vZ5Z5zfZ6eK3veJzfia7v//7viK7v7v7v//7viJ7via3f7v7viJ7viJ7v!45.7v//7/ma7v7v7viaZ53v3viK3v7v//7vZ5zfeKVpd5zfisRpV6ecV7RqR6R6R5R5R6WKR5Waare6WaSZWoWpararWpWZe1WZ//SarE////e4WoSKWpaninWYSLWoi1m3WLWIi3zveqWKR5RpzveaWJR5WKeK3vVoRYeLVqV6RYZ6zfZ53v7/7vZ5Z6eKzf7v7/iaea3f////3vZo7v!4.7v7v3viJ7v//7v//7v!49.7/!3.7v7v7viK3f7viK7v7v7v3vZ5eK3feK3veLV6vfR6NpR6acR5WKWKzvWKR5WazuapWbaoSJWLaqaoWoe2a2e2nEelanaoanWoWoi2e2e1a3nGaoanWYWoV6abR5WKRpRpRo3vebWKWKebRo3vZ6Z6zfeLVp3vzfeLRYVpeb3v3v3vZ6Z57v7v7/3veJ3v7vd5Z57v////7v7v3viJ7v7v//7viJ7v!6.7v!12.7v!29.7v!6.7vZod53veJ3vd53vd5Z53v//7v7/3vZ5ebaLabV6erWKvfaKzverWKaai6WaareqaZR6NpR5e2Wnm1WYaoi0enase3Wqa3qki2Woi2Wparaoe5SJSKapWaabvfaLV53vZ5V5WKWKV6zv3vzfeLzf3v3veKVpzfVpZ6Z6Z5zficZ63vd47v//3vZo3v7v7v////7veJeKia3f7v!3.7v!6.7veJ7v!10.7viJ7v!27.7viJ7v!6.7v7v//7v3vib3v7v3v//7///7v7v3vZ5zveKzfzvabV6aKaKzvzvzvWJWJWJzveqWJWJaZabaoe4Saane4Wo7/Woe5ananjHe2aoSJWZWZSaR5WaWaWaerR5V6zf7/3vzvecaKV6Z6ebaLNYZ63viK3fZ5zfaKzf3vZ6Z5zfeJ7v7v//7v3vZ5eK3v!4.7v7v3veJd57v!9.7viJ7v!11.7v!29.7v!3.7v!6.3vZ43feJ3viJ7vma3veKZ53v3v3vzfZ5aKzfisvfebaKV6aLaKzveazvWJR5vfWKabaZWaWaaqWKapaZWZi3SKarapWZ3/WZWYNpWbSKSJWKzvzvV6R6V6zfeKaKvfV53vzfV6V6NZV63v3v7/3veKeLeK3vzfZ53v3v7v7v7veJibzfVpib3v//7v7v7v////7v7v7v7v!4.7v!4.7v!45.7vma7v!4.7via3v7viK7v7v7v7/7vZ6eLVqVpeLV5Z5zfZ5zfZ6V5vfaKRpaLzvaKzvWKR5WKRpzvaKzvWaWaaazvzvWJWZR5aazvWKWKWJSJSKNpWKababzvZ6WKWLWKRpV6vfaLzv3vVpaLvfZ6eb3veJ3v7vZ5Z6vfZ5Z6ebzveKZ5d53v3vd57v7v3fZ43vd5Vod57v////3vd5d57v////7viJ7v!4.7v!45.7v!3.7v////7v////7v7v7via7v3vZ6RZNZRpzfZ6Z57v7v3vVpeLebeKVozfZ5Z5Z6RpacRpR5zvzvebWKaazvZ5aKvfV5WKvfecR6RpvvaKabvfWKWKebaKV5vfeczveLV6aLaLebzvecaLV6zviszveKd63v3veKZ6Z6zfibZ5zfibzfZ53vZ53v3via3v//3vd53fia3v3viJ3fmb7/////7v7v!4.7viJ7v!6.7v!37.7v////7viJ7v!3.7/7viJ3veJ3viJ3fVpVpeK3veJ3v//7vZ5Ro3v7/3v7v7v3v7v3vZ5aLWLabesebWKabWJ3/zfV6aKvfVpVpvfV6V6zfV5ececR6RpRpzfZ6Z6V53v3vV5ebV6WLWKR5R5RpzfZ5Z5Z5zPd63v3vVpZ57v3veK3v3vZ5Z53vRYZ5eK3f7v////3v7/3vmreJ3v//7///7v7viJ7v!5.7v!6.7viJ7v!35.7vma7v////7v!3.7vma7v7v//7v//7v//7v3v7v//7v7v7v3vZ5Z57v7/ia3veJia3v7v3vZ5aKV5isvfaKV6iszveKVpRpVpVpRpaLaLvfZ6RpvfaKZ6RpV53vebzfZ6ib3v3v3/zvR6abervfV6aL3v7vzfZpZ6iLzfZ6zf7/m73veKzfZ5zf7vVo3v3vZ5eJ3v3viJ7v7veJ3f//7v//7viJ7v7v!5.7v!8.7v!7.7v!25.7/!3.7v!5.7v7viJ7v!7.7via3v//7viJZ5d53feJ7v//7v//7v3vZ5eJ7v3v7v7v3veKzfeKzfeKzf3vibzf3vZ6ebzfZ6RpV6Z6aKzfVo3v3veLzfV5RpeL3v3vebV6abvfaLRpZ73v7vZ5zf7vzfZ5VpibzfV43vZpZ5VpeK3veJ7v7/ib3feKeK3v//7v3via7viJ7v//7v7viJ7v//7///7viJ7v!14.7vma7v!23.7/q77/!7.7viJ7v7v!4.7v!4.3fZ53v7/3v7v7v7v3v!5.7vd53v7vd47v////7v7/3fia3fd53vzfaKzfZ5zfaKebZ5zfZ53v7v3v3vZ5VpZ6aLvfZ6V6VpRpWLV6V6RpRpZ6V5zfVpZ53vibzfZ6zfVoVozfeK3fibzf7v7v//7v3v7/7v7v7/7vd53v7v//7v//7/////7v7v7/q77///7v!8.7/!7.7v!25.7v////7/!5.7v7v////7v//7v3viK3v////3vZ5VpeK3vmr7/7vd5d57v!3.7v//7v////7v!3.7v7vma3v3vZ5eKV5Z6Z6Z53vZ5eK3v3vaJ3veJZ5zvVpZ6zfaLZ6Z6vfV6NZaKzvzfaKZ6zvecV6vPZ53vzvicRoib3v3fmr3v7v3fZod57v3viaeK3v7v3vmr3vZ5eJ7v7v//7/qr7v//7vma7/7/!10.7/ma7/!31.7viJ7v7/ma7/7/////7viK7v7v7vd43vd5Z5ZoeK3v7via3vzfeKzfeJ3v7v3vZo7v////7vd43v!4.7v7/7viJ7v7/3veKzfZ5Vpzfzfib3v7v3v7/ibaJ3vzfeLisV5zfiseLzfzfVpVqeLzfebeKzfZ6zfZ6RpRpvfeLaKaK3v3v3vmb3v3veJd53f7v7vd53f3vd5Vnib7v7/3v7v7viZ7v//7vma7///7v!13.7/!33.7v7v//7/7/ma7///7viJ3viJ7v7v//3v7v7v3veJ3feJ3feKebeJ3fZ4ia3v7v////7v//3fd53v7v7v3veJmb3v3v7v3vib3vmrzf3vZ5Z6zfd53veK7vzfaKzfZ6Z6vfV5iszvzfV5V5V6VqzfeLzf3v3vZ6Z6VpzfeLZ6Z6VpV5zfeKVpzf7viK3f3fia7v7v3fd57v7v7v7///7via7v//7v!3.7/!50.7viJ7v////7/!3.7v7v7v7///7/ma7/////3fmr3fiKzfVo3v//7v3vZ53v//7viJ3fiK3fZ4eJZ5d53v3viaZ5iKVoeK7v3veK3vVoVpeLZ53vZ5zfVpV6Z6zfaKVqVpvfVpZ6VpisvfVqVpzfaKaKRoVpzfZ63v3v3v3v3veKeKZ6Z6eK3v3vd5d53v3vZ5d53v//7v////7viK3f!10.7v!47.7v////7v!3.7v3viJ7vmq7///7v7v7v7veJ3v//3veKZ53v7v7/7vzfiK7v//3fib3v7/7v3v7v7v7v7/3v7v3vZ53v//7veJ3v3vd6zf3v7vZ6VqRYRpZ6zvZ6aLRqWLV6vfecvfVpNIRpzfebV6aLV5zfZ6aLVpaKeJ3v3v3vzfZ5zfd57v7v3v3vVpZ53f//7vd53v7v//3vd57v!8.7viJ7v!48.7viJ7v//7viJd53v7/7v7/7v7vZ5Z43v3v7/7v7v3vzfZ5VozfebebZ57v3vZ5eKib7/7viJ7v7vZ5ebZo3v7vd57v//7vZ5d63vZ5Z5d5zfVpZ7vPVqvfisaLvfRqRqV6isV6ecRqVqvPRpV6ebzvZ5Z5VpRpaLzv3vVpZ53viazfeKZ53v7veKZ5Z6zfd63v3vZ5Zod53v3vd57v7/!4.7v!3.7v////7v!47.7v!3.3fd53v7via3via3v3v3vmrVo3viKZ5VpRYVZVpibzfZ6zf7veKzf3v7///7v7v//3vVoeLzfia3v3v7v7v3vZ6zf7v3v3v3vZ6RpV6RqV7RqNpRpaLV6V6zv3vRYV7V7RZRpNIZ53v7/3v3vzfV6vfiszvZ6Z67v7v3v3v3veJ3vZovPZ5zfRYZ6d53fd53fmreJ3f7via7/////7viJ7v!4.7viJ7v!49.7viJ3fiK3feJ3v3vibZ53v3vib7/3vzfibVpZ6zfVpVpVoZ63vZ5eLZ53v3viK3v7viJzfeK3v3vd5Z5VpVoeKZ6RYaKaKmr3vV5RpV7aMWMR7WLzfaLV6aLibzfZ6VpV6RZvfeL3v7v3vm8zvZ5Z6V6vfaLvfZ63v3vVoeLzvib3vzfZ6zfVpRYeL3v7v7v7v7/3veJ3veJ7v!3.7v!5.7v7v!51.7v7/3veKzfib7/zfVpVpeK3f3vZ5Vp3v3vzfeKzf3vzfeL7v7vzvZ6eKZ5d6eJ3v3viK3fd53vzfebeb3v3vaKZ6aLV5Z53vibaKvfWLNpR6V6zvzvaKV6vfZ6Vp3vzfV6ecV6zfaKaKzvebZ6zfZ6aLV6VqV5zfV5aKV6ib3vZ5VpZ5zfVoaK3v3vd53fia7v7viK7v7v7v!8.7viJ7v!12.7v!31.7v!3.7v7v////3vmszv3veKzfZ6VpeLzfd6zfeKzf3vV5VpVpeK3fZ5Z47v3vmszf7v3v3vzfia7v7v3vZ6Z6eKZ53v7v7v3vzfeLvfZ6zfZ5zvisvfaLaKV6RpaLvfV6V5vfeKzfZ6RZNZR6V6RpV6abaLeczveKzfV6V6vfaKaKvfiszv3vVpRpVpiazfeK3feKVpZ63f////3v7v3veJ7v//7v!6.7v!3.7v!8.7vmZ7v!29.7veJ7v//7vd5Z47v3veJ3vibebZ5eLZ6Z6zfZ6vfebzfVpVpVqZ7Vpzfib3v7v7vZ4ZpZ53vZoZ5Z5d57v3vibeKzfzfZ53vVoRYZ5Z5RpV6RpZ63v3vVpaLzf3v3vaKV5aLNpNZaLzfVpvfV6WLV6WKWKaKV6V6RoaKzf3vRpRpRpRpvfZ6zfeLZ5VpVpeK3v7/3via3v3vZ5Z53v3vZ5Z5d53v//7viJ7v!5.7v////7viJ7v!8.7v!4.7v!25.7vd57v////3vZo3vd53f7v7/3v3v3v7vzfZ6RpVqVpZ6vPZ6V6VqaK3v7v7v7v7/3v3v7v7v7v3fib3v7veJzfzfeKeKZ53vzfaKzf3vZ6aLvfZ6zfVpvPVpZ63v3v3v3vzvWLV6eb3vZ6V6RpWLWJerzvzvmrzvaKV6V53vZ6VqRqV6iszfVpzfZ6zf7v7///7v//7v7/7vd5zfZ5Vozf7v3v//7///7v!4.7/7viJ7v////7v7v!12.7viJ7v!24.7veJ7v!3.3v7vZ5Z5d5zfibZ5Z53vibZ6RpRpNpNZV6zfV6V5zfeLzfVoZ53feKd6zfd53vib3vmr7/3veKeK3v3vzfZ6Z6Z6eK3vZ6zfebvfZ6VpaLvfRpebV5Z53vV6V6vfV6zfV6NZWLvvm8vvaJaJaJ3vzvecRpzv3vzvaLaK3v7vZ6Z6Vpd63v7v3vd53v3vq83v3veKVpZ5Z53veJ3vma7/!4.7/mr7/3v!3.7viJ7v!12.7v!26.7v!3.7viJ3v7v7v3fZ5VovPZ53v3vzfRpWLecaKaLzfV6zfzvVpaLaKzfZ6vfV5Z6zf7v3v3v3v3vm7Z5zf3veKibRY3v3vVozfeKzvaKaKzfVpaLV6WKaLV53v3vV6aMWLV6ecvfRpV6V6V5aKebzv3veLV6RqR6RpebaLV6zf7/7vRYRpZ6vfZ5VpV5VpRYVo3via7v3v3v3v3v3via3v7v!6.7/7veJ7v!3.7v!6.7v!35.7v//7v3fiJ7v7vd5zfzfRpV5RpaKR5R5abzvzv3vaKaKV6V6V6aLzf3vVpZ6aLebZ6eLebZ5RYVpZ5zfibeKzfzfeK3v3vV5eLaLzfV6aK3v3vaLRpzvzfaKzvebV6V6V6V6V7V6RpacWLNpRqRpV5zfaLR6R6RpRpaLV6VqZ67v3vV5Z7vfVpZ6NYZ6VpVpzf7v7v7/mreK3vZ4ib3veJ7v!3.7v!3.7vd57v!9.7viJ7v!33.7viK7veJeK3v7v3vZ5VpaKebvfaLaKWJabRpV5aKzvebzfRpVpVqvfV6Z6vfebzvebeK3vzfVpVpZ6Z63vzfeKZ5VozfeLVpeLvfRpaKRpVp3v3vV6RqzfV6V6V6V6aKzvzveLV6vfaLvfWLNpV7VqzfeLvfesaLababzvZ6VpZ5zveKV5V6aLV6zfZ6zv3vd6Z5Vo7v7veJ3v7v7v7/7veJ7v//7v7viJ7v!3.7v!11.7v!33.7viJ3v7vzfZ5zfeKZ6vfZ7abV6ecV6R5zverWaR6NZV6V5zv3vzfVqaLV6VpZ63v7/7/7/3veKebzfeLzfZ5Z53vzfRYaLvfeLaLVqaLzfzfRYV5zfV6RqV6R6RpV6zvzvisaKvfRpV6RpWKaLWLRpV5zvaKWKvfV6zvzvzvV6zfzfiszv3v3vaLRpzfaKms3v3v3vZ53v7/3v3via7v//7veJ7v7vd57v7v!12.7/!38.7v7veJVoVpeKzfVpVqaLWKzfV5V6V6zvaKWIabWKzvV6esebV6V6V7aMvfeK3v7///7veJibzfeK3v7vVozf3vZ5VpRYRYzfzfV6Z6V6V6V6ecRpR6V6V6R6RpWKzveKRoRpRqRqvfV6aKzvzvRYeL3vzvV6acV6aLecaLNpV6R5ecV63v7v3vV5aLV6zfmsia7v3veJ3fiKZ53v7v////7v//7vd57v!9.7v7v//7vmq7/!36.7viJ7v7v3v7v7v3vVpVqVqZ6zvzfRpV6RpSKWpSKV6aLWbWKWbWKWLRqV6V5zfZ6ib7/7/7vzfVoeK7v3vZ5Z5irib3v3fVYRYaKZ6vfaMV7V6vfV6V6zvzvWKaKzvibvfaKV6RqR6abzvzvaKzfZ6vfebaKV6NpR6V6WKR5V6WLaLvfaLVpaKzfRpaLVpVp3v3v////3viJ3fiK3fiK7v!4.7v!9.7vd5d53viK7v!38.7v//7viK3v3vVpVpvfaKzfaKV5Nper3vWpWoSaWp3vaZSKSKaszvV6RpzfaKRpVp3vib3veKVp3f7via3v7v3vZ43v7/zfZ53v3vV6R6RqR6WLacV6zvebabaJzveKeK3vzfZ6R6abV5erV5V6vfaLV6zvWKNpR6aLzvebvfecvfaLV6V6vfebaLzvVpVp3vib7v////7v7v3veJ3fia7v!3.7v!8.7veJ3v7v7veJ7v////7v!38.3veKVpVpZ6aLV6vfWKWLSKWbSJV6WoWpWZSJSJabR5WKzvV5V5zfZ6RpV6zvebiszfZ5eK3v3v7v7/7/3vZozfZ6zf3v3vaKWLNZRqR6NpV5eKvfZ6vfir3v7v3vZ5zvzvaLR6NpNYR6RpRqaLzvaLR6WLec3v3vVpRpVqRZRpRqisaKaK3vVpVp3vzveJ7v//7viJ3v7v7v7v!3.7viJ7v//7v!5.7/ma7/////7v////7viJ7v!35.7v7v7veKRpVpvfV6NpR5SKSaSLWpWpu0WpjHWoe4R6Wae3WZaaerV5aKzfZ6V6aLRpV6zfVpvPVpVpZ53vmrzfVoebZ5aKV5V6ecvfV6V6abV6zfZ6RoRqV6zf7/3veKV53vebaLWKR6WLaLRpeLvfWKecV6V6RpebzvV6RpZ6zfVqaL3v3v3v7/3vzvicebZ57v7vma3fiK3vd47v////7v//7v//7via7v!4.7/7/!7.7v!35.7viJeJ7v3vV5ecaLWLR6Waaoe5WLWqnGeni1ani2WZWYarWYWYWZWaabR5zvzfV6vfVqNZZ6VpZ6vPRYZ6zfeKeKzf3v3v3visV6WLR6RpvfaKZ53vzvebRpRZeKzfVpvfV5zfV5abe7Waab3v3vzveLeLvfV6vfacacecRpzfaK3vV5RpzfeKeKzfaKebzfZ6Z57v//3v7v7v//7v////7viJ7v////7v3fiJ7v////7/ma7/!42.7v//7v7v//7/eavfZ6V6RparWZWoenWpaonEm0e3nFe1anWZe2ane4aparNpRpZ6RYRpRpRpZ6zfVoeKeLzfib3f3vZ6aK3v3v3vvfRqNpR6V53v3v3vibebV6RpvfaKaLaMRpWKV5WLR5aaaa3v3vaKzfzfZ6RpV6V6WLV6V6zfeb3vzfRYZ6zfZ6V6RYaKisea3v7v7vZ5d53v!3.7via3v7v//7/iaeJ7v!4.7v!42.7viJ7v////7v7v3vZ5vfebzvWaaoemWoanrEq0e1ana2m3a3WoaorEWZSJWaR6V63v3vZ6Z6Z63v7/3v7v3v3vzfd6zfaLRpebRoRoRpRpNpWLV6zvebir3v3/zfV6V6V6RpR6V6abvfWLR6WavvaKZ5RpV6RqaMV7V7V6vfR6R6V7RqVpZ6Z7RZeceLaLaK3v3veJ3viJ3vib3fd53v7v//7v7v3viJ7v//7v7v!4.7via7v!40.7/q77v7v//7vVoeK3vZ6Z6vfWKarWoaoWpmmu0i1q0m1a2WpapWoi1WoWZWazvWKaKzv7/7v3v7v7v7vd43vd5VpVpZ5V5RYRpRpaKV5V6V6V6V6RpaLV6Z57v3vZ6NYV6vfV6vfV5RpV6R6aLaaaJV5vfRpRqRqV7RpvfV6R6R6R7RqRpZ6zfaKaLzvzvV6aK7/7/eK3v3v3via3vZ5eJZ43vd53fd53v////7v7v7v////7/q77v!42.7/7vd57v7veKzf3vZ5zfaKSL7/eni2q1ujvEqkyzqknFrEe2e17Va3i1a3e6aaaKV5aKzfeKzvZ53v7v7v3feKVp3v3vebRpaK3vzfaJiraKzfzfecV5zf3veKzfebaKecaLeL3vzvecaLvfV5V5V5V6RpacaLRqVqaLWLR6WLWLNpV6zv3v3vZ6V6aKvfV53v7vZ5VpVpd63f7/7v7v7v7vVoZ5Z53v//7vZoZ4d57v7v//7/!5.7v!37.7v7vd57v3vVpd6eKebzvWKSJWaWoe2rFSbvDyj2z6zq0q0yji1u0vDe1e57/7/3vaLR6RpaLecaLeLzfd5eK3v7v7v7v3vVoZ6zfV4VoiazvZ5RoV5RoZ6eKzv3vV5zfV6vfeK3veKabR5aKvfeavfV6R7R6WLvfaLvfesesV6R6V6aLebaK3vzfVpRYV5ibZ57v3vV5Z6zfeK3v7v////7v7v3vzfqs7///7v7v7v7viZ7v!5.7viJ7v!35.7viJ7v7v3veKZp3v3vzvabWLNqWYaoWYvDqkyD2zmkvDuj7Fyzq0rE//rEWoWZ7/3/ebR6RpRqRqV7VqV53v3v7/3veKZ47v3v3vmrzf3v7/7vZ5Z5zf3vzvV6ecaLV5zfV6aKzf3v3vaLaLzfisvvisRpWLabWKaLV6WLR6WLR6RpaKvfaLzf3vireKzfVpzfZ57v3vicZ63v3fiaiJ7v7via3vZoVo3v7/!5.7v!7.7v!37.7v//7via3v7v7vV5WKacSKWZWoa2e2nEm1zD2j6jzD2D6T6T2j2jrEvDnGWY3+eqaLvfWLV7V7V6VpeL3veK3feLVo3v7/q73v3vaJeK3v7/7v3veKZ6ebV6WKV6WKecvfV6Z6eKzfV6V6aLvfaKWKaLvfiszvaKvfabNpRpV6zfaLRpV6Vpiczv3v3vVpzfeLzfeKzfeKZ6Z53v7v7viJ7v//3vZpib3v!8.7v!44.7viK3v//7/ebR6arWpani2ane2vEi0zD2D5y2D2D6D2j6CqTu0m1e1i3WZabR5WKaLzfVpeL3v7v3vVpeLVpZ57v//3vea3vzfV6RoeL3v3vV5Z5zfV6V7vfWKaLV6VqZ5zfZ5RpRpNYaKebWKzvZ6aKzvaLaKvfabaLZ6zvaLV6vfaKzveKeKeLRYVqRYaKzfZ5zfZ5Vo7v7///7v////7vd53fiK7v!6.7viJ7v!38.7v////7v7v7/3feK3v3vaKWbSJeme4nF6Um1nE2jyz2D6T1Cuj6z2jzD2jm1rDWnWoWaWKR6V6is7/3vZ53v3vVpVpzfZ63v//7v3vebV5aKZ6RpV6V6ebV5zf3vVpNpaLRqV6RpRp3v3vV5V6V6ecvfebiszvaLvfesWKV6V6V5zvZ6V6RqRqV6aKzfZ5aKvfVpzfV6Z53veJ7v3v7v3vma7/!4.7v7vZ57v7v!5.7v7v!39.d57v7vd5Z5zfeKzfaKV5erWKe2ane2m0zDvD6T2z6D2T1E5y1i6j6j6jzVrErEi1abzvWKRpis3v7v3vZ5Z6Z6Z6zfeLeL3v3vd5RYV6V6isvfeLV6V6RpV6ibeKRpaMWLacR6RpV6zfV5V6zv3vzveKV5zvV5V6R6aLNYRpV5zvzvVpRpRpRpaLzfibzfzfZ6RY3vVo3v7/7v7viJ3vib3v!6.7viJ3viJ7v!3.7viZ7v!39.7v////3vibeKzfibVpRpvfaKWpeni2rEvDu0vD1C2D5y1C5y2T6j2zvDuDe1i3WoaqWaR5V6zv3vZ5Z5zfzfaLaL3vzfV6RoeK3fd6vfaKzfaKV63vzfaKzf3vzfaLV6V6ecvfV6aLaLV6Z6zfiaeKzf7v3vZ5zfaLV6RpV6abisaLvfV6VqeMvfeKzfV5Z6eLVp7v7v7v7v7///7v3veJ7v!7.7v//7v!5.7v!44.7/3vZ5zfZ6aKebeq3+anm1ane1yj6C2T1S5y1z1S2D6T6TvDyznEi1anWnWpWJvfZ5zvZ6RYVoeLVpRpzfeKVpZ6zf7/zfZ6zfibVpZ5zfeKzfZ53veKzfVpzfzfaKacaLvfaLZ6Z6zf3veK3v3vZ5zfZ6aKzvzvaLvfaKV6VpaLRpV6zf3vZ6vfVqV57v7veJd5mr7/7veKeK3v7v////7v!4.7viJ7v!3.7viJ7v!41.7///7v7v7v3vZ5zfzvV4eorGarmmyzyz2D2D1C2D1S1S1S1i5yzDvDq0rDnEe3e1nHaZRoisVpV6zf3v3vZ6eKzfZ6zfiK3vVoVpeK3v3v3vZ5Z5Z53v7vaKzfeKZ6Z6RoVpV6VpVpzfZ6Vp3vzfeKebRoVpaKzfzvaKR5V6RpebZ6zvaLVqaLV6eLV6RYZ63v7v3v7v7///7veJ3fd5eJ7v7vd57v!4.7v!5.7v!10.7v!30.7/ma3vZoZ53veJzfVpaLRpWZSJi2nG2k2j2D6T1z1C1C1S1j5i6T2TyzyjqkuzzDe27+aIaKzveKzfZ5eK3feKzfZ6VpaKzv3vZ6zf7v7vd53v7v7v3v7v7/ibVpzfeLzf3vZ6zfaLV5zfZ6VpzfeLV5RpzfiszvaKaKaLRpV5ebaKzf3vZ6V6V5Z6VpRpZ6zfVpZpZ57v!3.7v//3v7v//7vd47v!8.7/!11.7viJ7v!30.7///3fZ53veK3vVpacR6R5nGe1q1//2z6C1z5y1S1C5y1C1j6TuD2j2znE2jrE2zi1aXWJ3/7v3veKzfibzfd6zfZ6RpeczfV5Vp3v7veJeK3v3vZ5d53vZ5VozfV5Z53v3vibzfZ6Z6vfRpV6vfV6aLzv3v3vzfV6V6zf3vV5aKZ6VpVpzf3v3vzfeKzfeKzfVpeL3v7///7///7vd57v//7/3v!8.7/ma7/!11.7v!31.7v7via3v7v7v7vaKV6R6Saana3q0u0yT6C6D2D5i1S1i1S6C1y6T2DyjyzrEe1q0e3aoaJ3v7vd5zfZpVpZ5Z57vzfaKaKZ6aLzfib7v3feKRod53feK3v3vzfZ6zfzfib3feK3vzfVpaLRpaLaKVpaKVpaKZ5eKZ6zfeLzfVpvPVpVpVpeK3viaVoeK3vZ5zfVpRZVpia3via7v7vZ53v7/mrZ57v////7v!5.7/!43.7viJ7v7v7viJ7v7/3vWLNpSKi1e1yj2T6z2T2T1S5y5y1z1i5iyj6z2jyT6j//i1a2e3WZRoZ6zfZ6eKzfd53v3v3veK3v3v3veKZ6zv3veKzvir3v//3vd5aKeLVpZ6eK3feJzfeKZ5Z6V53vzfVo3v3vVpZ6zv3vzveLVpZ6VpZ6Z6zfeLZ63v7v7v7v7veKicVpeLaK3v3veJ7v7vVnZ57v3viK7v//7viJ7v!47.7viJ7v!3.7v7vibzfV6WLWZWoi3q1yz2T6j5i5i1y1S5S5i5i2D2T2T2zrDqka2e4jIzuaKvfVpVp3v7/7v7veJiaZ6zfZ53vzfVpebRpeL3vm77/////7vzfZ5VpZ6zf7v3vZ53f7v3vib3feK3v//7viKzfm83vibVpZ6zfZ6zfeb3veKZ5eK3v!3.7/3vVpzf3v3vmr3v////3vd57v//7v////7v7v!49.7v!5.3veKV5V6WLWaanm1rD2j2z1z5y5S1z1S1z5i5y2D1i6juTq0i0//7+WKWKvfebzfZ53vqr7/7v7v3vzfd5VYVpeKzfeKRYVp3vq77/////7viJ3v3vzfV5eK3v3viK3v3vZ5d53v//7v7/3fiK3v7vZ5Z53v7vzfaKZ63v3v7v3vd53v////7v7vZ6Z5mrV4V53v!3.7v//7viJ7v7viZ7v!54.7viJ3vzfeMNpWKnHSZrEzD2z5yyz5S5i1C1S6C1yyzxz2jrEnEaqaoapWZSJWLV6zveK7v3v7viJ3vZod53v3vd53f7/3vZ5zf7/7/////7v//7v//3vZ5Z5zfiJ7v3vd5Z53f7v7/3veKzfZ53f7///3v3v3vZoeKVpiczvib7/7vd4d57v7viJ3feK3v3vzfeKib7/!5.7v////7v!5.7v!11.7v!35.7v3via7v7veJV6NZR6R5anrEyj2j2j1y5i1S1S2C6TyT6TyzvDi0i1WZaoarWZSKR6abzvVo3viK7v7v7v7v3v////3vZ43v7/3viK7v////3veK3v//7via3f7v//7v//7v3veKeK3v3vZ6VpVozfZ43v7veJZ5eK3v3fd6zveKZ57v//7v3viK3v3vd53v7vZod53feJ7v!3.7v7viJ7v!6.7viJ7v!9.7viJ7v!33.7veJd57v//7v3v3vVpVpR5aYi2uz6T1S2T6C5y5y6T5y2T5y6TyzyTWpa5jHWIWJWKR5WK3vib7v3v7v7via7viJ7v7v//3fib3v//7v7v//7vZ5Vod57v//7via3v7v7v7vZ47v3veKV5ebZ6Z5zf7vZ5ib7/7vzfVo3vma3v7vZ53v7v!3.3veJ7v7v////7v3v7/7v7v////7viJ7v7v!8.7v7v!10.7v!35.7v7v//7vd5Z5zfV6zfzveqaoimvDyU2D5y5y6T1C2D5y2T2T6jm1qle33+nJWJRoR5aK3veJzfVoZ57v7v//7v7viJ3viK3fiK3v3viJ7v7vZ5zf7v!3.3vZ5Z5VozfeK7v//7v3vZ53vzfZ53vzfeb7/3veJZo3v7v//7/ib3viJ7v////3viK7v////7v7viZ7/7veJ7v////7v//7v!8.7viJ7v!47.7viazfZ5Z6aLV6ebaaWZWoe1//yj6j2D6j2j6z2D5i6zyzvDe1aoe5aYvuisvfeK7v3vZoVoeK3v!3.7v7v7vd53v3vd5d53f7v3vVod57v//7///3viKzfZ5Z63v7/7/7/7v7v7vd5RXZ5VoVo3vmr3v3via7v////7vmr3v7v//3vZ43v//7v3viJ7v7/////7v!4.7vd47v!8.7v!47.7vd53fmb3vzfV7RqWK3vi4ana3nFujvEyTxj2j2z5y6C6SvDnEe3Wpeoe5erR5aLzf7///3vib3fd53v//7viJ7v7v3viJ3veK3fd5Z5d53v3v//7/ma3feK3f7/zfZ53vq73vibeJ7v//7v7v7v3vd53vZ47v7v7v7v//7v//7/7viJ3via3f//7veJd57v!10.7v!57.3veJ7v7/7vZ5Z7R6V53vaoSZm2m1i0u0ukyj2TuDuj2juz2zrEi3nFWaWKWKR6RpV57v//7v3v7veJd57v7via3vZ47v7v//7v//3vd53v7vma7///3vd53fd53vd5Z47v7/7vZ53f////7///7v//7v3vir3viJ3vZo3viJ7v////7v7vZ5Zo3v//3v7v!6.7v7v////7vma7v!55.7veJ3v!3.3vRpaLvfaZanWJ//e3ennEzD6juTu02D2TvDy0nFa3WYeoWaWKvvV6aL3v3vd5eJ7v7v7v////7v3vd53fiK7v7v//7/7v////3v////7veJ3viK7v3v7v////7vZoiK7/7/ma3vd53v7vZ5Vo7v7v7vd57v7v////7v////7v3fmr3viJ7v!3.7///7veJia7///7v7v!57.3v////7v//7/ebaLacR5WZaoaYjEanjHvDyzzDrDvDvDvDaoa2e5SZaoWZaazvRpRqVpZ5d53v!5.3veKzeiJ7v7vd43eq77///7veJ3v////7v7v3v7vd53v7v////3v7v//7/7v3vZ5d53vZ5eK7v//3vZ53v////7vd47v//7veJ3v7v3v!3.7/ma7v//7v7v//7viJ7v!56.7viJ7v7vZo7v//3vaKWLWKap3+rFWoi3e2uzi0rFvD2ju0rEanemWaWKWaaaaJzvaKNZV6zf7v!5.3vd5zfiK7v////3eiJ7v!3.3vma7///7veJZo7v3viKd57v7vd53v7/mq3vd53v7v//7v7v7v3viKd5eJ7v////7v////3vd53veKiK7v!3.7/////7viJ7v//7v!58.7v//7veJ7v//7/eKRpR5zvipaoSKenare1WHvEa2e3m1nGm2enSJarabV5vfebzficeKeK7v!3.7v7vZ5Zod57v////7viJ7v////7v////7/////7v7v7v//7v3v3v////3veJ7v7///7v7v////7v7veJZ43v7v7v//7v!3.7viJ7v7veJ3v!8.7v!5.7v!57.7veJ7v////zfVpRpaKvvebWJSKSJWYe2nEWoe4aoaoe3epR5WLR5vfeLVpaK3v7/7v7v7v7v7veJ3viK3v7v!3.7v7v////7viZ7v//7v//7viJ7v//7vd5Z5ia7/7/mreJ7v////7veJ7v7veJ7v7v7v!3.7viJ7v!3.7v////7v//7v//7v!10.7viJ7v!56.7v7v////7viazfVqRpaKvfaKWKV5R4WJSKaZarWaSJWJR4V6R6WKesV5VpZ57v//7viJd4d53viJ7v7v!4.3veJ7v!3.7v//7viJ7v//7v7v//7veJ3v7v//7/ea3v!3.7vd57v7viJ7v!6.7v//7v!4.7v//7viJ3fia7v!10.7v!56.7viJ7v!3.7veKZ6Z6Z5eK3v3veJm7zueZaaaKV5V5V5V5ebV5V5aJ3v3vZ47v////7v7v7v//7v!5.7veJia7/!6.7v////7viJ7v//7v!3.7veJ7v!4.7v////7v!8.7viJ7v////7viJ7v//7viJ3fiJ7v!67.7v!5.7v7v7v7v7v////7/7/7/7/7/7/3/3/3v3/7/7/7v7v////7v!14.7v7/!11.7v!7.7v!18.7v!4.7v!3.7v//7v!61.',164,152);drawFlow('c2','!4964.7v!155.7viJ7v!155.7v!328.7v!155.7vma7v!143.7v7v!10.7v!143.7veJiJ7v!154.7v7v!75.7v!155.7viJ7v!69.7v!85.7v!69.7viZ7v!155.7v!122.7v!155.7viJ7v!34.7v!76.7v!43.7v!34.7viJ7v!11.7v!62.7viZ7v!13.7v!20.7v!43.7v!7.7v!3.7vmZ7v!62.7v!13.7vmZ7v!18.7viJ7v!49.7viJ7v!3.7v!78.7v!20.7v!43.7v!7.7v!147.7viJ7v!116.7/////7v//7v!32.7/7v!116.7/ma7/7viZ7viJ7v!30.7/mr7/!98.7v!18.7///7/7v//7v!29.7v7v//7/!7.7v!90.7viJ7v!18.7/mr7/!30.7veJiJ7v!7.7viJ7v!83.7v!6.7v!9.7v!10.7/!32.7v7v!9.7v!6.7v!76.7vma7v!4.7/ma7/!7.7viJ7v!59.7viJ7v!74.7viJ7v!6.7/!9.7v!33.7v!12.7v!14.7v!75.7v7v!7.7/!42.7viJ7v!10.7viJ7v!12.7v!69.7v!5.7viJ7v!6.7via3v!42.7v!12.7v!12.7viJ7v!67.7viJ7v!5.7v!7.7vVod57v7v!5.7/!13.7/!19.7v!27.7v!69.7v!7.7v!7.7v7v7viJ7v!3.7/ma7v!11.7/ma7v!9.7v!7.7viJ7v!103.7viJ7v////7v//7v!4.7v!5.7via7v!11.7v7v!8.7viJ7v!3.7v////7v7v!103.7v//7v//7v7via3fiJ7v7v!5.7/!3.7vmq7/!4.7v!5.7viJ7v!6.7viJ7v//7///7viJ7v7viJ7v!19.7v!10.7v!70.7v7viJ3v7/7viZ7v7via7v7vd47v!3.7/ma7/!3.7/!4.7viJ7v!5.7v//7v!6.7v//7/ma7///7v////7v!19.7viJ7v!3.7v!4.7viJ7v!68.7viJ7v7viJmr3v7v////3v7v7v3v!3.7v//7v//7v//7v!6.7v!5.7v7v3via7v!8.7/!26.7v!3.7viJ7v!4.7v!58.7/!11.7v////7v3viK7v//7viJZ5eJeJ7v//7viJ7viJ7viJ7viJ7v!5.7v!4.7vd5Z5d53v!6.7v7v!3.7v!27.7v//7v!63.3via7/7/!4.7/7v//7v!5.7veJ7v7v//7v3v3v7v////7v7v//7v//7v//7viJ7v////7v7viJ7v!3.7v3v3viK7v!5.7vd5d57v//7vmZ7v!10.7v!14.7viJ7v!59.7v!3.7/iaia3vmq7/////7/maeJ7viJ7v////7v////7v7viJ7v7viKeJ7v//7viJ7v7/ma7/!3.7v////7vd53v3v!3.7viKZ57v7v!7.7v7v!3.7v!10.7viJ7v!14.7v!59.7vma7v//7v//7/7///7/////7///7/7v//7v////7viJ7v!3.3fia7v7v3v//7v//7v////7v////7v!4.7vd5iKeJ7v!3.7via7/!15.7v7v!8.7v!74.7v//7v//7viZ7v!5.7/ma7/!7.7v!3.7via7v//7via3vd57v////7viJ7v7viJ7v////7v//7v7v7v7v7v!3.7/7v!14.7veJiJ7v!3.7v!77.7viJ3veJ7v7v7v!3.7v//7v//7/!10.7/////7v!3.7v7vZo7v//7v//7v////7viJ7v7vZ47v7/7v3vd5d57v7///7viJ7v////7///7v!4.7v!4.7v7v!3.7viJ7v!77.7v7/mr3viJ7v////7viJ7viJ7v!10.7/ma7/!6.7v7v//7viJ3veJ7v7///7v//7/mr3vibeKd53f7v7/q77v//7viJ7v7/mr7viJ7v////7viJ7v!9.7v!75.7v!4.7///7viJ7v////7v//7v!12.7/!6.7viJ7v////7v3vd53fmb3fd57v7/ia3viazfzfiK3v7/3viJ7v7v7v////7/7v7v!4.7v!86.iJ7v!6.7v!7.7v!7.7v!4.7v7/!4.7v////7v7/mbzfia3fZoZ53v3veK7v3vd5Zo3fiK7vma7v7via7v////7veJ7v////7v!7.7/7v!30.7v!48.7v!9.7v////7///7viK3v!5.7viJ7v////7veJiK7/!3.7v7v7viZ7v7viK3f7/7v3vd5Z53v//7v7v7v7v7v//7///7vVo3v////7vd57v//7viZ7v!5.7vmrd57v!13.7v!3.7v!10.7viJ7v!55.7/7viJ7v7/mq7v7vZod57v////7v////7v!4.3veJ7v////7vd5ia3v7v7v7/3fiJ7v7///3via7/7viJ7v3viK3v!3.7vZ4eJ7v//7vd53v////7v7v//7v7v//7viJ3fd57v!12.7vmZ7v//7viJ7v!10.7v!49.7v!5.7/ma7v7v//7v7via7v7v7v////7viJ7v!5.7v//7v////7v3vd53fd43vma3vd53v7vma7v7/7///7/ma3vq73via3v7v////7v7v//7v//3vd47v7/7viJ7vd5Z53viJ7v//7v!14.7v!3.7v!60.7viZ7v!5.7/7v7v7viJ7v7v7v7/7v7v////7viJ7v!3.7viJ7v////7vd5Z53f7/7v//7/7vd57v//7vmr7v//7v//7///7/7/3feKZ53v7v////7viJ7v//7v7/mr7/7v7/3vZ57v7v////7v////7v!4.7v!4.7v!19.7v!47.7v!6.7viKZo7v7v//3veJmbZ5Z43v////7v!5.3v////3viJ3v3viK7v7v!3.7v7v//7v3vmr3vd47v7v//7v7viJzfZ6VpiK7v7v7v3viK3v//7vd53vmr7/7vZ57v////7veI7v7vma7v////7viJ7v////7viJ7v!3.7/!13.7vd47v!52.7v//3vZ53v//7vd53v7/3v3vqr7///7v!3.7v7via7v7vd53v7/7v3v7viJ7v////7viJ3viJ7v7///7v7viJ3feJ7v7v7vRYVpzf3vZ4d53veKeJ3v7veJ7v7///7/ia3v////7v7v//7v7v!4.7v!4.7v!3.7/mq7/!11.7viJ7v!52.7viJ7v7vVoVo3v3veK3v3viJ7v3v7v7viJ3v//7viJ7v7v//7v7v3vmrZ5d53vVo7v7v//7v3v7veJ7v7v7v//7v3viJ3v////7viKzfibZ5zf7v7veJzfd57v7v7v7v7v//7vma7/7viJ7v7viJ7v!7.7v!5.7v7/!13.7v!51.7v////7via3v3veKZ5Z6zfebZ53v3vd5eJ7v3viJ7via7v7viJ7viJ3veJ3v3v3v7vZ53via3fd5eJ7v7v7vVoiK7viJ7v7v!4.3fZ6zfzfeK7v//3veKZ57v7vd5Z4d57v//7///7v3fiK7v7v!3.7v7v////7viJ7v!3.7viJ7v!64.7vma7v7v//7viK7v3vebRpZ6Z63v7vd5Z53v////7v//7v7v7/7v//7v7veJ3vZ5d53veK7v7viJ3v3v7v//7/ib3v7/7v////7///7v7vd5RHVYVpVp3v7v3vZ53v//7vZ5ib3v!3.7veJiK7v//7/////7vd5ia7/////7v//7v7/////7v!66.7v7vd47v7v3v7v7/3veLZ5zf////7v3v7/7/!3.7/ma3via7/////7v7vd53v//7/////7v7vZ4iK3v7via3v7via7v7/mq3viK7v3fZ6zPd6zfVoZ5VoZp7v//7via3v!5.7v7v7v7vmq7/7v//3v7v!4.7veJma7/!68.7///7v3vZ5ZoeJ3veK3f3vd53v7v3vq87vma7v!3.7/3veJ3v!4.7v!4.7v7/7v3vzfeK3v3fd53v3via7v3v3vZ53feKZpd53v3veK3f3vmr7/7v//7/7/////7///7///7vZ43v7/7viJ7viJ7v//7v7v////7v7///7v!5.7v!3.7v!56.7/ma7/7vd5d5zf7v7v3feK3fZ5ZpZ5Z5zf7v7v!3.7v7/mr3via3v!4.7v////3veJzvZ5V5aJzfd5d5zfiK7v3v7/ebVoVpeK3v3v7v3vd6zfd57v7/3viJ7v7/q77/7/mq7vma3v//3viK7v//7v//7v//7veJd57v!3.7viZ7v!3.7viJ7v//7viZ7v!56.7v7v//7v3viJ3veKVozfd53fd5zfVpRoZ57v////7viJ7v7///3vd47v////7veJ3v7vd5VoicZ6eKmr7/3v3vmr3v7vd5zficzfzfZ53fiK3veKVpZ6Z57v3viZ3v7v7v7///7/7///3vd47v//7v//3veJ3v7v7viJ7v7v!5.7v!5.7v!3.7v!54.7v////7viJ7v////7v7vd5zfmsVo3v7v7vZ5Z6eK3v//7v//3v!3.7v7v////7/3veKZ43vZ5Z53v3v7/7/3vms3v3v7v7vzfZ6Z6V5ibVoZ53v//3vZ53v7v3vm8zv7veJeJ3v7/mr7v////3v//7viJ7veJZ6Z6eJ7v7v!71.7viJ7v////7v//7v//7v3vZ5Z5zv3viJ7v7v7v7v3viJ7viJ3vd57v//7viJ7v7v7/ibVo3v7v7v7v7v7viJ7v3viK3vd6VoZ5aKVpRYzfd63f3vd53v//7vd53v3vaKZ6Vo7v7v3vir3v3vmr7/7viJ7v//7v//3vZ5Z53v!4.7v!35.7v!33.7v////7veJ3feJ3vd5Z5zfebea7v3v3vZ53v7v//7v7v3v7vZ57v////7v7veJ3veKZ53v3vmr3v7v//7v3viJ3v7vZ5zfzfV6VqV63vzfeK7v3fd53v7/3fd6Z6RpV5eb3v3veKeKia7/7///7/ma7/7/!3.7v7v////7v//7viJ7v!33.7viJ7v!35.7vd5eKZp7v7v3vebZ6zf3vZ5eLVpZ6eK3v3vd5iK3vZo7v//7v7v7viJ7v7v3veLZ53vibeJ3v7/mr3v7/3vVpVpV6acNZVqZ6Z6Z53vZ6VoV5zfeKzfVpVpiszfZ6Vpzf7v3v////7///7/7/ma7/!5.7vd53vd53v//7v!33.7v!37.3v3veK7v//7vzfV5VoZ6RYvfZ6Z6zfeKd53v7v7veJ7v3vVod67v3v//7v7vZ5Vp7v3vzfeKzfZ53v3veKVpRpR6acaLaLVpZ63f7vZ5RYZ6ibzfiK3v7v3vebRYRYZ53vd53v7/mr7/////7v////7v!3.7vd53vd57v7viJ7v!65.7v!3.7viJ3vd53v3vZ5VoeL3v3vVpRpvfic3v7v3v7v7v//7v3virRoZ53fiK3fiJ3vVoVo3veJZ5zfZ6VpVpVp3v3vebaLV6RozfZ5zfiK7v3v3v3v3v7veK7v7veKzfZ6zfeK3vzfZ6zfeb3v7v7viJ7v7viJ7v7v////7v//7v////7viJ7v!64.eJ7v!3.7v7v3vd5d5Z5vfZ63v7vzfVpVqVpeK3fZoZ5iK7v3vd53vzfeKd6zfeK3v7vzfeK3v3vzvmsZ6VpaLVp7v7vRoaLvfZ53vZ53vZ53viK3fiaibzfZ53v//3vd5eK7v3feKicVpVpVpZ5Z53v7v//7v3v7viJ7v7v!4.7///7v!65.7v////7v//7veJ3v3v7vzfeLRpzfZ6VpVqRpVpzfd6zPd63f7veJzf7vib3f3fmb3f7vZ5VpZ6zfeLV6zv3vVpvfZ53v7vZ5zfZ6Vp3vd5zfeK3vzfZ53vzveKzfZo3v7v3v3v7vZ43v3vV5V6zf3vd6Z57v7vd5d57v7v3vZ43v//7v7/mr7/!4.7v!63.7viJ7v7vZ5Z5ibzfZ5V6RpV6V6Z6zfVqVqzfZ5d63feK3fibeK3v3fiKd6zfZ6zvibZ5zfZ6VpVpeb3vVpZ6V5Z5zfd6zfVpVp3vzfeKZ6V5Z6ebzvebZ63vZ5VpVpVpeKzfd63v7/zfZ6Z63v3vZ5zfiK3v3v//7veJ3fmr7viJ7v7/!4.7viJ7v!7.7v////7v!52.7v////3veLvfV6V6vfRpvfacebzvZ6aLZ6aK3v7v3viKzfVpZ5iK3vzfZ5V5ebzv3viKzf3vzfaKzfZ6zf3vzfZ5Z6d6vfV6aLaLzf3vzfZ7aLRpVpaK3vzfZ7VpVqZ6VpzfZo3vd5VpVpZ5zfibZo3v3veK3v//7v7/7/7v7v!6.7v3v!7.7viZ7v7viJ7v!51.7v////7vVpRqV6RpisRoV6WLvfebV5zvzfeL3veJ3v3veKzf3v3v3veKVozfVpV53v3fibZ6VqV6VqNYaKisV5Rp3v3vZ6RpaMWLV6V6aLVqV6aKzvzfZ6aKV6Z6zfeLeKzfd53v7vzfVpZ6Zo3v7v7vd5Z5d57v7v7v3via7v!5.7vZ4ia7/!7.7v////7v!51.7viJ7v//7vVpZ7aLV6vfV5R6WLR6abeczvVpVp3v3fqs7/zfZ6eKd6Z5zfZ5zfZ6RpzfZ6zfV6RpV6RqV6aLzvV5V63v3vZ6vfaLaLV6RpV6aLzfaKirZ5V5eLvfV6is3v3vd6zfd6zfeKVpzf3v!3.3vZo3f7veJZ5Z43f!6.7v3v7v!64.7v////7vZ6zfaKV6V6Roi7WKWKR5R5aLNZV6VpZ5zf3vZ5RZZ6zf3v3vZ5VpzfeLZ6RYeLRYZ6vfVqV6zf3vVpV5Z5V5VpaLvfVpzvzfV6V6zvaKWKzfzfZ6V6V53v7/7veKzfRYRpVpVpibZ53v7v7v//3vmb7v3v7vzfeJ7v!3.7v7vd5eK7v!67.7/ib3v3visRpV6zvWKWKzvWKRpRqvfVpVpZ5aKV5RZvPeKzveLV6vfZ6vPRYZ63v3v3vZ6RZRYVpzfZ5iszfaKebV6aLRpzfaLaLRpaLzvaKaKZ6eLvfaK7v7/7vV5VqRpeMV6zf7vzfeKZ5Zo3v7/7v7viJ3fiK3eiJ7v//7viJ3viK3v7v!63.7v7v7v7v7vZ5Z53vzfR6V6zvWKR5WKWKR6RqV6V6vfebzfzfRpV6V6ecV6V6V7V6VpV6zf3vd6zfVpV6vfV6V6zf3vZ5vfaKzfzfVpRZRpV7VqaKzvaLaLvfV5aKaKzfeKzfaKRpaLvfZ6eLzfeKebzfzfd53viK7v3fd53v//7v//7///7v//7v7vd57v//7v!59.7veJZ5Z5iK7v3vVpaLRpRqR6are6WazvaaabWKvfaKZ6RYVpZ6RYZ6zfaLRpvfV6V6vfaLRpZ6V6aLRpRqebV6V7V6zvebisvfV6V6VqZ6V6V6V7vfV6V7V6aKzvzvzvaKeLebzfecV6ecZ6zfZ6zfaLaLZ6Vo3vZ53vd5Zo7v////7/ma7v//7viJ3vd57v7viJ7v!59.7v3veK3v7/3vRpV6NpR6WcR6SJSKWaR5abWbR5aKvfaLeLvfaK3vzvV6R6V6R6NpacWLV6vfVqRpV6ecvfV7RqaLWKvfV6V6VqVpzfzvV6R6RpR5RpV7V6vfisV6aLaLzfzfeKebV6ebzfZ5zfeLRYaLzfZ6zfZo7v3fZ57v7v////7viJ7v//7v7v3v////7viJ7v!57.7v//7/mr7/7vZ5RpZ7V6WKR6anSaSae5SJWbvvebvfaKZ6zfV5zvzvV6NYV6acvfR6R6NpRpR6V6Z6vfaLabRqRqRqWKWKWLWKaLzfV5eLaKvfV6ecRpV6V6VpNYRqR6vfV6V53vzvaKzf3v3v7vZ5Z5zfZ6ZpZ53v3veKZ53fiJ7v7v//7viJ7v7vd5d57v////7v!57.7viJ7v//7///7vZ5VpzveraqWaWZane2WaWaWaaaWKerzvV5zfaLecaLV6V6R6WKacWLR6V7R6R7WLvfV6WLR6WLaLR6WLaracWKzvzvV5aKzvaLRpNpR6vfV5zfVqRqRqV6Rqeb3vmsvfZ6Vom77/7vzfZ6VpzfVozfd6RYzfeK3f7veJ7v//7v////3v7v////7viJ7v7v!56.7v!4.7v7v3vzvWJWZWc//SKab3/WqR5aavfV6zfV6aLR6NZRpzfaLecvfR6V6vfRpR6acabR6RpWLR6R6V7vvvvSKSKSKV6V6Z6zfzvV6NZNZR6V6aLzfRpaMaLvfV6aKzvV5V6Z6V5zv7/7vZ5RYZ53veKeKzfVo7v3via3fia3v7v//7v7/mr7///7/mr7v7viJ7v7v!19.7v!38.7viJ3veKaKR5Wae2a2//aoe4apWYR5abRpRpR6V6RpRpV6zvzvababV6R6zfaLR6NpWLRpWLvfWLRqRqV6RpWKSKarR6V6aLV5V6V6RpNpWLRqV6V6V5vfV7VqV6vfisRpV6vfecV6eLzfRZRZ3v7v3via3vd57v//7viKzfZod53viJ3vZ57v////7/////7v7vma7/!17.7viJ7v!33.7///7v7v//7v7vVpV6SaWprEe2a2aoSaanSISJarR6R6R6WKvfaLacR5RpRpvfR6WLV7V6V6R6R5aLacWLR6R7RpRpaLvfWLSKSKV6vvRpR6acabacacaLvfaKvfaMNZV6RpV6aLvfV6RqV7NYNYVqV6Z7zfd53v7v//7v//7v//3viK3v7v//7v3via7///7v!3.7viJ7v!19.7v!33.7/mr3veJiJ7v//3veLR6aoanio6zana6a3WpWZWLWJSJR6WbWKWLR6aLR6WLWLV7NqaMRqR6WLvfacvfV6R6WLWLV6zvzvWLSKR6WbabvvecWKvvebvfaLvfebaKWKRpR6NpacRpvfecacRqRpV7eMRpVqRZVpvPZ53v//7v7viJ7v7v7v7v7v//7viJ7v//7via7v!3.7v!54.7viJ7v7v7v7v7/mrvfR5Sbe2e2qVe1WpWnm0WaWoWpWaabWaWLR6SLR6vfaaWLR6R6R6V6R6V6WKWKR6WLR6vvWKV5zvaLNpR6WKR6R6RpNpR6aKvfV5V5aKV6WKvfRpaLesvfaLecRZVqV6V7V6Z6VpzfV6Z6VpzfiK3fd53vZo3via3vZ5d57viJ3v7v////7via7v7v!4.7v!52.7v////7vd47vzveK7/zDnEnEu0rEimi1e1a3rFaoWZarWLWbR6SKWLV6R6WKR5NpeszverWJWaR6NpV7R6WKerV5V6R6R6SKasWKvfV6acV7aLaKebV5vfV6aKisV53v3vV5V6zfVpVpzfVqaLzfeK3vVpVpVo7v3vZ5Z57v7v7v7v3vZ53v//7v7viJ7v////7v7viJ7v////7viJ7v!55.7v7vZ5eb7/Sam1uzq1nEvDm0ukWpa2aoSKaqR6WZSKWqWparWaWaabWKV5vverSJerzvacvfRpvfebvvWLNqWLWbabV5eLvfaKRpvfR5V5ebRpVpzv3vZ53v7/zfV6zvVpVp3vZ6zfZ63v3veK3f7v7/3veLZ57v7via3fiK3v////7v//7v7v!4.7v7v!3.7v!21.7v!33.7v//7vZ5aKV5anm0zD6zyzzDnEq07Daoana2WbWZe4aY3/e6WbWZ3/WbvvaaR5SKN5WJzvR6WLR6WKRpWLR6SLWLWLWKzvzfZ6vfRpR6R5aavfV6RpeLzfVpVpzfebVpzfaKZ6zfeLZ6Vo3viK3feK3v3vibzfeK7v//3vd43v7v7v7via7v7viZ7v!3.7viJ7v!23.7viJ7v!30.7v7viJ7v7v7v3vRoa3nEzDyzyzrEzDq0e1a3m1WoWpao3/WZWaao3/SJSaapaZzvWKWKWaarWKWaSJWKzvR6WLR6R6vfWKR5zfZ6V5aKRpR6SKaKV5V6V6RpRqNZVqV6V6VpZ6zf3vVpzfzfeK7v3v3vZ5VpZ5zfd53v7v////7v7vd5Vo7v7v7v//7v7v!3.7v7v!8.7v!16.7v!29.7v7vd57v7v3via3v3vV4Wce1qk6zyz5ym1yzzDe2i1i1anNpWJabSKR6WaWpaoWpaZ3vR6arN5WJzvWqSaSJWJaqWbNpR6abRoWKV5V5zfzvWKR6NqV6zfzvzfWLRqRqRqNYV6zfZ5Z5zfVpVpRYZ53veKZ5VpVpZ6zfZ53via7v////7vZpVo7v3veJ7v7viJ7v7v7viJ7v!6.7v7viJ7v!45.eJ3vd57v7veJeKia3vWKaXyzuz6Tyjq1qlq0q0e1rDvDanaoWbasSLV6araoap3+3/aaR5apWaSKaraZWZWLSJWaWaWKebzveraKV5aLV5erR5WLR6R6V6RpRpRqWLV6R5WKeb3v3vzfaLZ6vfZ63v7vZ5zf3veKzfZ6Z57v7viJ7v//7viK3v7/ibZo7v//7v7veJ7v7v!6.7viJ7v7v!46.7v7vd57v//7v7v3v3/aaanyz1z2D6SvEukqli1mle1e1q0e4SKWaR5Wa7/i4aoapi5aaWZe5WYeoWaarR6WZWbSKWKvvabvvaKzf3vzfRpR6acSLR6R6aMRqRqvfecvvesWKvfeKZ5aKRpV7aLVp7v3vZ5Zp3f3v7viK3v//7v7v!3.7v7v//7/7v!3.7vd57v!8.7v!50.7v!3.7veKzfR6e22z1i1i2z7Vq0q06zrErE6UimanV5WZaoi4V6WKWJSJWZWZWaarWZe3WaR5WKWLasR6WKWKRpRpRYZ6zvaLV6R6acWLeczvaKWLR6V6WKWLabR6eszfaKzfZ6VqvfVp3vZ53v3vZoZo3v7v//3viK3v//7v7v7via7v!4.7v//7v!59.7viJ7v////7/zvV5abq12D5y5i1z1i2Tml2jvErFa3ane2i4SKWZSJanWJV6R6WaWavveraqWZzveqzvabzvWKRpaLV6V6V6vfisaLWKWKNoR5aKzvVpzfaLaLvfV6R6V7R5is3v7/3vaKZ6Z53v3v7v7/3vzfd57v3vZ6Z5Z53veJeJ3veJ7v!3.7viZ7v////7v7v!7.7v!48.7vZ47v//7/7/ibNXeqe25y1i1i1S1y2Dyjyjyzyzm1vDa3Wp3+rISKSK3/apWpWZWJR5R5WaWKzvV5zfZ6aKaaaKzv3v3vZ6aKabR5abWKaKzv3vzvVpvfRpR6NpV6R6NZR6zv3vms3vZ53v3vVoRpVo3vd5ibZ5zfZpVpVpVp3v3v7v7v7v!3.7/7/7v////7/iaeJ7v////7v////7vZ37v!48.7v7v7/q73vebV4//q06j1i1C1S5SyjzDu0vDq0q0qle2WZanV6WoWZWqaoWZSJeqNpWLvvabaKvfaKzfzvWKWKzvaKzfV5V5vfV6NoV5aairibV5RpRpV6acWKvfV7RpaLebRpebzfZ57v3vVpRZVp3vZ5zfZ6ZpzfeL3v3vZ5Vo3fiJ7v////7/iaia7/////7v7v7v////7viJ7v//7/mr7/!3.7/!44.7viJ7v7/7/3vV4eqq06D1S1C1S5yyT6jq1m1zDi1e1rEe4anWZe3WpWpWZSJWZeqNoRpabWKR5esaLV6aLR5abV6RqV6vfWLV6V6V6vfV5aKvfRpV6abvfWKV6RpRpVqvfZ6RYVpVpZp3vZ5RpaLzf3vVpd6Z53v7vZ53v7vZ6Vpd63f//7v//7/3veJ7v//7vma7v7/!3.7v!3.7/!3.7/ma7/7v!42.7v3v////7v7/zvWZm12T6C1C1i5i2jjEvDyzvFm1Wci1zVWYaoWoWZSZSaWpWZabR5i5abeqR6WLR6NpR6acSKR6R6V6WKabR6V6vfV6V6vfV6V7V6R5V6abV6VpVpZ6eLzfZ63v3vd53vZ5zfeLaLeLzf3v7v7v7veKZ53vd6Z63fia3vZ43eu77v7v!3.7v7vma7/!11.7/7viJ7v!39.7v7viaeJ7v3viJ3vaJV4m06C1C1C1C1S6Cm1vDnE60i2rD//anWZaoWZV6WZWoWaaqSISKaoWZarR6WLR6R6abSKR6R6RpvfaKRpV6vfaLRqRpV6RpRpzfRpRpzv3/3vzv3vzvZ6aK3v3v3v7/3v3vZ6vfaKZ6Vp3fib3feKZ57v3vZ53v7v//3vd43ueJ7v////7vma7v7/!14.7v!40.d53v3v7v7vd43v3vZ5abe42T5i1C1S1zrFvDrEi1zDeWa2WZWaWaanWoSaWYSKWZSae2WZWZWp3/WKV6R6WLWLNpNpacaKzvV6NpV6V6NZV6esaLabeb3vZ6Rpzv3vaKaKabaLabebV6RYeK3vd5zfVpV6Z6zPd6ibzfd63v3v7v3vZ5d53v////7v3vd57v//7viJ7v!3.7v////7v!50.3vZ5iK7///3v7vibzfR6//2D1C1C1S1C6j2jvDm1rEe1rDSai23Gao7+jHarWpWbanWZWbR6WpWaNoV5WKWLarR5RqV6zvaKR5NYV6V6V6zvzvWKzv3v7/zvaKV6aKV6aLWKaLV5vfZ6RpVp3v3vZ5RpRpvPZ53v3vibZ53vd5Z5Z53v3fiJ7v//7/mr7v!3.7v!3.7viJ7v7viJ7v!49.7/ia3v//7/mr3vzfaKVpi12j1C0y1S1S6D6ju0qlm1i3Woani3e2jHWpWpWZWpapR5e5e4WpWZe5arzve6SKNqNqWLRpzvecabaLV6V6vfiseaaKZ6Z5zvibvfVpZ6zv3/3vaLvfebvfVpaK3v3vZ5zfibVp3v7/3vZ5Z57v3vzfVpzfiK3fia3v7/3v7v////7vma7v!3.7v////7v7v!50.7/!3.3feKZ5aK3ue16j1S1i1S5i1S2jyjq0m1i2i1WoaqWoaoWaaYapWpWbSKWYararSJWpWaaqWaSLSKWKWLR6V7RpR5zv3vebibzv3vV5zfzfebWKeczvzfis3v7vVpVpvfirzfVpaKeKeK3v3veK3v3veKZ53v7vd5RYNIZ63v//3vd53veKeJ7v7v//7v!3.7v7/////7viJ7v7v!50.7v7vd53v7v3veaSKyz1i1C1C1S5iy06TvEnEe2i1e5e3WanH3+WaSKzvWKWaapzvV5R5WaWaR5SKSKacWLWLV6R6V6RpeL3v3vzfZ53vzfVpV6R6WLV6aLV6RYZ57vzfeLZ5zf3veK3v7v3viKzfebZ5d53v7v//7v3vZ6RpZ67v7v//7v7vd53f7veJ3viZ7v//7vd5mr3v7v//7v7vma7v!48.7viJ3vd57v//3vaJa66D1S1S1C1C1z6C6juzrEe3SJWoR6ioWpWZWaWaWJRpzvWJaaWKWLWaarSKWaarWKWLacR6R6erR6RpVpicZ6V5zfeLVpaLaLR6RqNZV7V6eb3vZ5Z6vfd63v3v7v7/7v3vZ5zf3v3v////7viJ3veLV6Z63viJ7v//7v3veJ3vmr7/7v////7viK3vd5d57v////7v!47.7v////7v7vma7/7veKveWo2z1z5S1C1C5yuDq0i1rEu0m1SaWoaoaoSJa6WZWaSJaraqvvV5R6R6asaaabaKzvV6RqNpWKerWKV6V6vfaKvfZ6vfV6zvzvV6NpV6aLeL3v7vZ5zfZpZ5ebZ5d6zfZo3v3veKZ5eJ3v7v//7v7/mszfiL3v7v//7viJ3fd53v7/////7v7v//7v//7v7v!7.7///7/!41.eK3v7v7v//7///7vZ5Rni2u05i1C1S5i6C2z3Dm1i2e2WoiXaXWLSKSKWaipWZarWaWZaJzvR6V7zvzvaK3v3vzfV7R6zveaebzvV5VpV6V6RqaLRpebzvV6ebZ63vzfd63vVoeK3vzfiszfZ5eLVpZ6zfeJ3vzfeKZ53v//7v3vd53feJ7v//7v3viJ3fia7v//3veJZ47v!10.7/mr7vmq7/!40.zfeKZ5ia3v//7v3vZ5RoaorD1j1C1C1S2T3DvDnEnEi2e2e2aoSbWaSKi6z+WaWbSJWJzvzvV6WLV6eb3v3vV5WKWLaLzv3v3v7/zfZ6zfaLRpaLaLvfaKzv3/3v7vibVp3vzfZ5zfeKzfebzvzfVpVpeK3v7vZ5Z6zfiK7viJ3v3v7viK7v3viK7v7v//7viK3vd53f7v!7.7v!4.7///7/!41.ZpZ5zf3fiK3veJZozfeaR6q05i1S5y1C5S2jnEzVi2m1e2aoaqWbWaSKzvapWZWaWKWLaLaLR6WLV6zv3/eKNYWLR5V6aKZ6eK3vibeb3vebV6zvV5isVoib3vZ47vzfVpzfeKzfibzfebV4irZ6Z6Z6zf7/3vZ53feK3f7v3vZ5Zo3v7v7vZ5d57v7v////3v7vZ5Z57v!5.7v7vZ47v!47.7v3vd5d53v7v7v3v7/7/7/an1S5i1S5i2D5yi1e2e2i1i0e2aoWpSKWaSKWKWZR6R6V6aLNpWKWLRpZ5zvRpRpV6eLzfisNYV63vzveKzfZ5Z6zvZ5zf3v7/3vd5zfVpVpZ5Zp3v3vZ6zf3v3vaKzfzfZ53via3v7v3fd5VozfVpzfd53v7vVo3v3viJ7v3viK3viK3v!5.7viJ3vd57v!49.3v7v3viJ3viK7v3vWajH6z1C1S1C5SyjvDane2qli0e2WZ3/WaWLeszvaaSKR5aKzvaKWKabRpvfi8WKV6zfzfaKRpNYRpeLZ6ebeJ3v3vicZ6Z63v7vZ4zPVpRY3v3vVpZp3vVpZ53v7vZ6RpaLeb7/7/7veKZ53fd5Z5eK3vZ5ia3via3viK7v7viaiK7v7v!7.7v//7v//7v!47.7via3fiJ3v7v3v7vVoR5i13D1S1z1C2jqznFe2i1vEWoe3WZWaSKWKvvaLR6WKWKerz/zvV6V6ababV5V6RqebZ6vfV6V6zfV6Vpzf7v7/3vZ5Z6zfeK7v3feKzfeK3v3vZ6zf3veKZ6Vp3vzfZ6aKRp3v7/3vZ5RY7v7v7v7v7viK3f7/7v//7v////3v7v!5.7v7v!3.7viJ7viJ7v7v!46.7viJ3v3veKZ5zfZ6V5a5ujyj5y6D2zi3i0e2i1anWoWpaoWZSKSKWLRpR6WLNpRpecV6VpvfV6RpecRpRpvfV6aLaLV6zfeLZ6Z57v3vibzf3veKVpzfeK3v7/3vVoZ6RYVqZ6zfzfZ5eLaKzf3vV5Z6eLRoVpZ53v!3.7v3viJ7viJ7v////7veJ7v!4.7viJeJ7v!3.7v//7v7viJ7v!43.7v////7v7viJ3v3veKZ6V57/nE3D1z2Tq0rFnEa2aoe4WZ3/aZWJNpWLR6aLvfWLR6NpaLvfRpV6V7V6vfRZNZV6aLV6V6acZ6VpzfeK3vZ5Vpib7/3vVpZ5zf7v7/7vZ6zfZ6NIVqVpZ6zfzfV5eK7vzfaKzvib3v3fiJ7v//7viJ3v7v//7v7v////7viK3v7v//7/7v7v7v3v!6.7v//7v!44.Vo7v////7v3v////3v3vaKeqaprEyjqUu0imWoWZ3+WaV5zvWJR5WbR6V6vfV6R6R6V7vfZ6RqRqVqV6V6VqRqR6V6vfV6V6Z6zfeL3f7/zfVoZ57v7vZ5Z6Z5Z5ibzfZ53vVpVpzfRYVpZ5eKzf3v7veKzf3v7/7viJ7v//7viazed57v//7viJ7v////3vd5Z53viaiKiJ7viJ7v7v!3.7viJ7v!5.7/!39.Z57v//7viKeJ7v7viKzfV5apWZi1yzvEuzem7+apeqSKR5WKWKSKSKabvfV5RpV7NZR6esvfecV5Z6zfzfZ6V6RpVqZ7RqZ7zf3veLeKzfeKzfd53v7/3v7v7v3vZ5Z5RY3vd53f7vZ6zfZ5zfd5Z43vZpeKZo3v7v7v//7v7v3vmb3v//7viJ7v////7v//3feJ3v7/7v7v//7v7viJ7v!3.7v!5.7/mq7/!38.7v!3.7v7v////3fZ5RoWK//m1qjvDrEmlaoSJNoSKWKarabR5WbabV6abRpRpNpR6V6ebzv3vzfZ6Z6ebvfVpVqVqRZRpeLzfeLRoZ63v7/3feK3feK3v//7v3v3vib7v3via7v3fib3v7/3v7v//3veK3fd5eJ7v7vZod53v7/////7/7v////7viJ7viJ3fmr7/7v7v!3.7v!11.7/!46.7veJzfaKzee5vEu0q0i1anSJSJSJWaarWKSKWKabV6RqR6Z6vfV6aLV6zfZ53vZ5VpZ6zfeKzfVpRpVqRYVqVpzf3veK7v7veJ3fib3feK3vd5eK7v3v7/mr3f3vZ53v7v3vd53v//7/7v7/3fia7///3v3vma7v7v3vmr7/////7/7v//3v7v3v7vd5d57v!61.7vd53v3vV5Roe26jqlene5WZSJWaarSKWKV6zvzvaLV6V6vfZ6VpzfZ6zfeL3v3veKzf3v3v3vVpZ6zf3vaKzfib3veJ7v//7v7viK3feK3v7v7v3vib7/3veJVoZ53veJib3fiJ7vmq7/7viJ7v//7via7v7/7veJia7v////7/mq7/7vd5VoeK7v7v7v!8.7v!53.7v3viK3vzfWKWZaoamWZzuaqR5WKR6acWLvficzvV6V7RpaKeLzf3vV6V6aLVp3vzfZ6eKaKzfeKzfia3vZ5Z53v7veJ7v//7/7/3viazfmr3v7veKZ53v//7v3v7v//3v7v//7v7/7v////7v////7v3v!3.3v7v//7v////7v7/7/7v3fiK7v//7v!7.7viJ7v!51.7viJ7v7veKV6aLR6SajHaqWKWKvvabR6WbacWLR5V6V6aLaKzfzfeKeKVpV6vfVpVpeKVpVpZ6Z5Z57v3v7/3vZo7v//7v//7vmr3v7v3viJ3fiJ3vib3fia7v7/mr7v7viJ7v7viJ3fiJ7v////7/7vVod57v7v7vd57v7viJ7v7viJ7vmr7via7v//7vd47v!4.7/////7v!51.7viJ7v////3vVpVqV6WIaoWaR6WKvvaLR5WLWLaLV6Z6V6zvzvV5Z6zf3veKzfeKVpvPeL3v3v3v3vd53veJmb7/7v!3.7/mrzfd5Zo7v7v//7v//7/3vZ57v//7vmr7/7v////7viJ7v////7/qr3vd53v7veJ3vZo7v//7v////7v//7///7v//7///7v//7v7v//7vma7/!54.7v7v!3.3vZ6RpWKaaWaR6abV6vfaLWKvfebzv3vibzvisZ6V5Z53v7v3veKzfZ53v7vZ4Z57v7v7vzfZ53v//7v//7v7/3veJ3v3v////7v////7vd5Z57v7v7/3v3via7v////7v7v!3.7///7v//7veJ7v7v!10.7/ia7///7vd5d43viJ7v!50.7v!4.7viJ7v//7v7/zfR5abvvWJWKV5Z6isV6RpZ6zvia7v3fZ5eK3v3v3vibzfeK3v7/3vq77/3veJ3v7vd5Z5Zod57via3vZ4ia3v7v7viJ7v7viJ7v//7v7v7v7veJ3vd5d53f////7v7viJ3v7v!3.7v//7v7v!5.7/!6.3veJ7v////7vd57v7v!50.7viJ7v!4.7viazfVoeLRYZ6Z5aJirzv3v3v3vRpNYZ57v7/7viKVozf3veKzfVoeKZ53v////7/7v//3vd53v7v7v7v3v7/7v7/3v3veJ7v//7v////7v//7viJ7v//3vd57v7v3vma7/7viJ7v7viaZ53v7v7viJ3viJ7v!4.7/mr7/!4.7viJ3f!4.7v!6.7v!46.7v!6.3vZoeLaKVo3v7/7/3vZ4Z47v7veKeK3v!3.7v3veKiaZ5d53v7v3via7v//7viZ7v7vd5ia7///7viZ7viJ7via3veJ7v!7.7v//7vd53v!3.7/////7v////3veKZ5d57v7v//7viJ7v!4.7/!6.7via7v!9.7viJ7v!53.7v7/7v7v!4.7v7v////7v7v!6.7v7v7v7v!3.7v!3.7v////7v7v!3.7v//7v//7v//7v!11.7v!11.7v7v7v!4.7v!13.7v!11.7v!45.',157,154);</script>
</body></html>
